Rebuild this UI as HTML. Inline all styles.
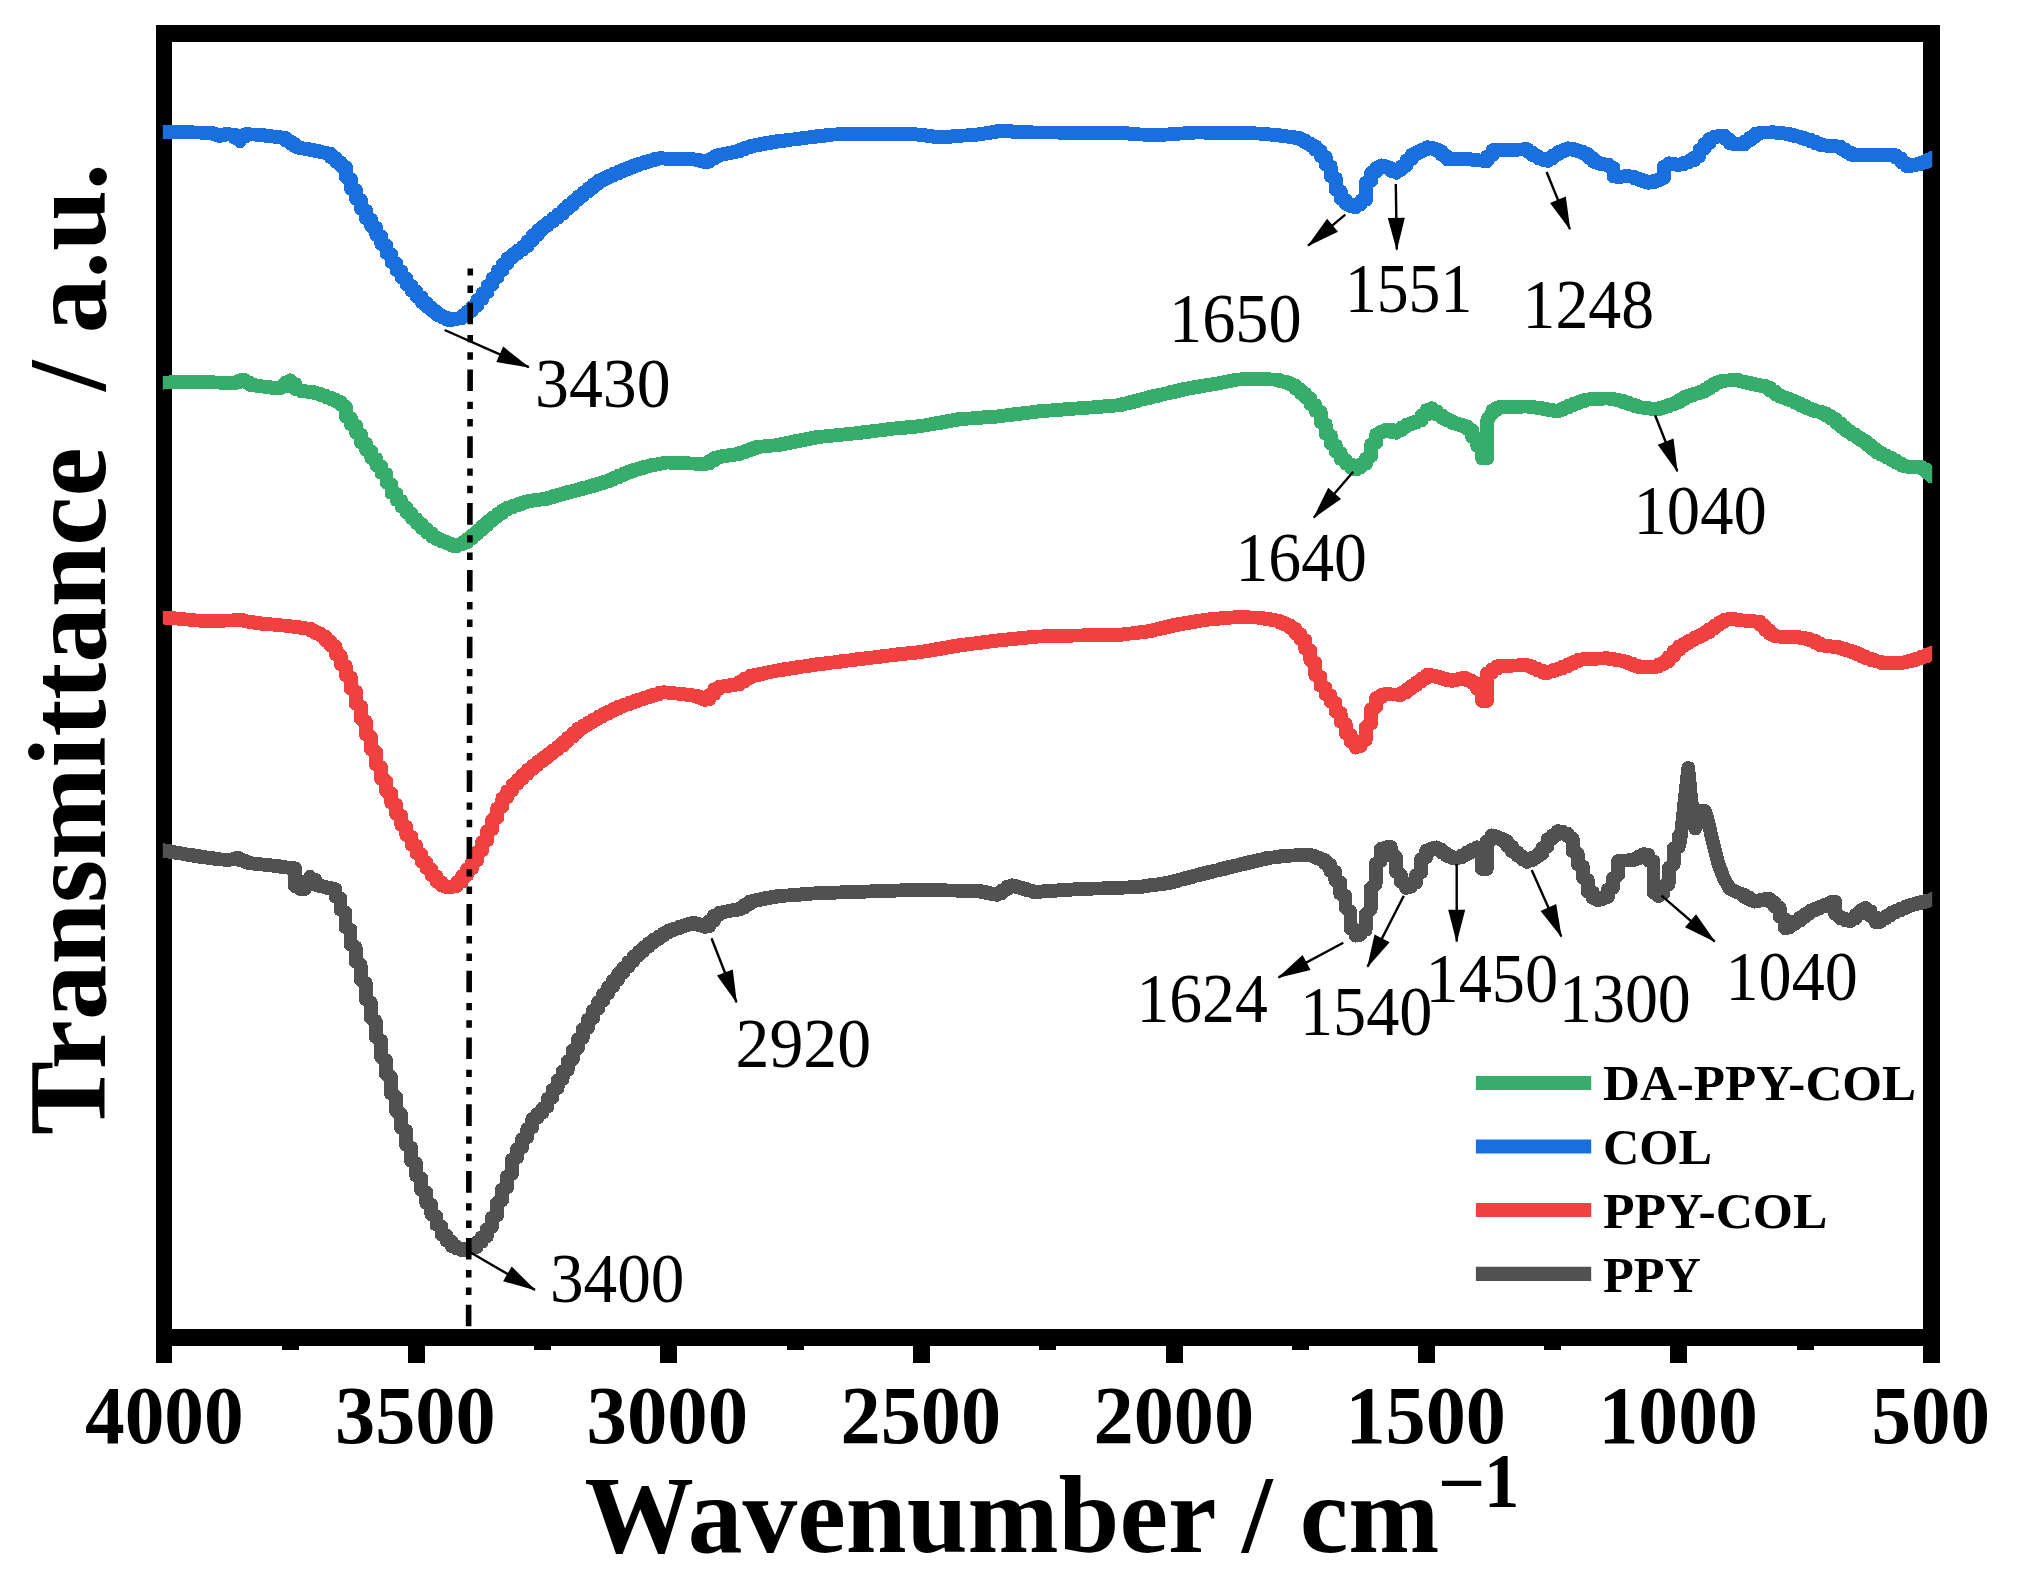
<!DOCTYPE html>
<html lang="en"><head><meta charset="utf-8"><title>FTIR spectra</title>
<style>
html,body{margin:0;padding:0;background:#fff;}
body{width:2017px;height:1594px;overflow:hidden;}
svg{display:block;}
text{font-family:"Liberation Serif","Times New Roman",serif;fill:#000;}
.b{font-weight:bold;}
.tick{font-weight:bold;font-size:83px;}
.ann{font-size:69px;}
.leg{font-weight:bold;font-size:50.5px;}
.sup{font-weight:bold;font-size:76px;}
.ttl{font-weight:bold;font-size:110px;}
</style></head><body>
<svg width="2017" height="1594" viewBox="0 0 2017 1594">
<rect x="0" y="0" width="2017" height="1594" fill="#fff"/>
<g fill="#000" shape-rendering="crispEdges">
<rect x="156" y="25" width="16" height="1321"/>
<rect x="1923" y="25" width="17" height="1321"/>
<rect x="156" y="25" width="1784" height="17"/>
<rect x="156" y="1329" width="1784" height="17"/>
<rect x="156" y="1340" width="16" height="23"/>
<rect x="1923" y="1340" width="17" height="23"/>
<rect x="408" y="1340" width="17" height="23"/>
<rect x="660" y="1340" width="17" height="23"/>
<rect x="913" y="1340" width="17" height="23"/>
<rect x="1166" y="1340" width="17" height="23"/>
<rect x="1418" y="1340" width="17" height="23"/>
<rect x="1670" y="1340" width="17" height="23"/>
<rect x="282" y="1340" width="17" height="10"/>
<rect x="534" y="1340" width="17" height="10"/>
<rect x="787" y="1340" width="17" height="10"/>
<rect x="1039" y="1340" width="17" height="10"/>
<rect x="1292" y="1340" width="17" height="10"/>
<rect x="1544" y="1340" width="17" height="10"/>
<rect x="1797" y="1340" width="17" height="10"/>
</g>
<defs><clipPath id="cp"><rect x="162.8" y="30" width="1769.4" height="1310"/></clipPath></defs>
<g clip-path="url(#cp)" fill="none" stroke-linejoin="round" stroke-linecap="round" shape-rendering="crispEdges">
<polyline points="153.6,850.2 153.6,850.2 153.6,850.2 153.6,850.2 153.6,850.2 153.6,850.2 158.6,850.2 158.6,850.2 158.6,850.2 158.6,850.2 158.6,850.2 158.6,850.2 163.7,850.2 163.7,850.3 163.7,850.4 163.7,850.6 163.7,850.7 163.7,850.9 168.8,851.0 168.8,851.2 168.8,851.3 168.8,851.4 168.8,851.6 168.8,851.7 173.8,851.9 173.8,852.0 173.8,852.2 173.8,852.3 173.8,852.5 173.8,852.6 178.8,852.8 178.8,852.9 178.8,853.0 178.8,853.2 178.8,853.3 178.8,853.5 183.9,853.6 183.9,853.8 183.9,853.9 183.9,854.1 183.9,854.2 183.9,854.4 188.9,854.5 188.9,854.7 188.9,854.8 188.9,854.9 188.9,855.1 188.9,855.2 194.0,855.3 194.0,855.4 194.0,855.6 194.0,855.7 194.0,855.8 194.0,855.9 199.0,856.1 199.0,856.2 199.0,856.3 199.0,856.4 199.0,856.6 199.0,856.7 204.1,856.8 204.1,856.9 204.1,857.1 204.1,857.2 204.1,857.3 204.1,857.4 209.1,857.6 209.1,857.7 209.1,857.8 209.1,857.9 209.1,858.1 209.1,858.2 214.2,858.3 214.2,858.4 214.2,858.6 214.2,858.7 214.2,858.8 214.2,858.9 219.2,859.1 219.2,859.2 219.2,859.3 219.2,859.4 219.2,859.5 219.2,859.5 224.3,859.6 224.3,859.6 224.3,859.7 224.3,859.7 224.3,859.8 224.3,859.8 229.3,859.9 229.3,859.9 229.3,860.0 229.3,859.8 229.3,859.7 229.3,859.5 234.4,859.3 234.4,859.1 234.4,858.9 234.4,858.7 234.4,858.6 234.4,858.4 239.4,858.2 239.4,858.6 239.4,858.9 239.4,859.3 239.4,859.6 239.4,860.0 244.5,860.3 244.5,860.6 244.5,861.0 244.5,861.3 244.5,861.7 244.5,862.0 249.5,862.4 249.5,862.7 249.5,863.1 249.5,863.2 249.5,863.3 249.5,863.4 254.6,863.4 254.6,863.5 254.6,863.6 254.6,863.7 254.6,863.8 254.6,863.9 259.6,864.0 259.6,864.0 259.6,864.1 259.6,864.2 259.6,864.3 259.6,864.4 264.7,864.5 264.7,864.6 264.7,864.6 264.7,864.7 264.7,864.8 264.7,864.9 269.8,865.0 269.8,865.1 269.8,865.2 269.8,865.3 269.8,865.3 269.8,865.4 274.8,865.5 274.8,865.7 274.8,865.8 274.8,865.9 274.8,866.0 274.8,866.1 279.8,866.2 279.8,866.3 279.8,866.4 279.8,866.5 279.8,866.6 279.8,866.7 284.9,866.9 284.9,867.0 284.9,867.1 284.9,867.2 284.9,867.3 284.9,867.4 289.9,867.5 289.9,867.6 289.9,867.7 289.9,867.8 289.9,868.0 289.9,868.1 295.0,868.2 295.0,868.3 295.0,876.6 295.0,885.5 295.0,885.9 295.0,886.3 300.0,886.7 300.0,887.2 300.0,887.6 300.0,888.0 300.0,888.4 300.0,888.9 305.1,888.9 305.1,887.4 305.1,886.0 305.1,884.5 305.1,883.1 305.1,881.6 310.1,880.2 310.1,878.8 310.1,877.3 310.1,876.9 310.1,877.9 310.1,878.9 315.2,879.9 315.2,880.9 315.2,881.9 315.2,882.9 315.2,883.9 315.2,884.9 320.2,885.5 320.2,885.7 320.2,885.9 320.2,886.1 320.2,886.3 320.2,886.5 325.3,886.7 325.3,886.9 325.3,887.1 325.3,887.3 325.3,887.5 325.3,887.7 330.4,887.9 330.4,888.1 330.4,888.3 330.4,888.4 330.4,888.6 330.4,888.8 335.4,889.0 335.4,889.5 335.4,891.3 335.4,893.0 335.4,894.8 335.4,896.6 340.4,898.3 340.4,900.1 340.4,901.9 340.4,903.9 340.4,906.8 340.4,909.6 345.5,912.5 345.5,915.4 345.5,918.3 345.5,921.2 345.5,924.1 345.5,927.0 350.5,929.9 350.5,932.8 350.5,935.7 350.5,938.6 350.5,941.4 350.5,944.3 355.6,947.2 355.6,950.1 355.6,953.0 355.6,955.8 355.6,958.7 355.6,961.6 360.6,964.5 360.6,967.4 360.6,970.3 360.6,973.2 360.6,976.3 360.6,979.7 365.7,983.0 365.7,986.3 365.7,989.6 365.7,993.0 365.7,996.1 365.7,999.2 370.8,1002.4 370.8,1005.5 370.8,1008.7 370.8,1011.8 370.8,1014.9 370.8,1018.0 375.8,1021.2 375.8,1024.3 375.8,1027.4 375.8,1030.5 375.8,1033.8 375.8,1037.1 380.9,1040.4 380.9,1043.7 380.9,1047.0 380.9,1050.3 380.9,1053.6 380.9,1056.9 385.9,1060.1 385.9,1062.9 385.9,1065.7 385.9,1068.5 385.9,1071.3 385.9,1074.0 390.9,1076.8 390.9,1079.7 390.9,1083.1 390.9,1086.5 390.9,1089.9 390.9,1093.3 396.0,1096.7 396.0,1100.0 396.0,1102.8 396.0,1105.5 396.0,1108.3 396.0,1111.1 401.0,1113.9 401.0,1116.6 401.0,1119.4 401.0,1122.3 401.0,1125.1 401.0,1127.9 406.1,1130.7 406.1,1133.6 406.1,1136.4 406.1,1139.2 406.1,1142.0 406.1,1144.8 411.1,1147.5 411.1,1150.3 411.1,1153.1 411.1,1155.9 411.1,1158.6 411.1,1161.1 416.2,1163.5 416.2,1165.9 416.2,1168.3 416.2,1170.8 416.2,1173.2 416.2,1175.6 421.2,1178.1 421.2,1180.4 421.2,1182.8 421.2,1185.2 421.2,1187.6 421.2,1190.0 426.3,1192.3 426.3,1194.7 426.3,1197.1 426.3,1199.3 426.3,1201.2 426.3,1203.1 431.3,1205.0 431.3,1206.9 431.3,1208.8 431.3,1210.7 431.3,1212.6 431.3,1214.5 436.4,1216.4 436.4,1218.1 436.4,1219.8 436.4,1221.4 436.4,1223.1 436.4,1224.8 441.4,1226.5 441.4,1228.2 441.4,1229.9 441.4,1231.5 441.4,1233.2 441.4,1234.5 446.5,1235.6 446.5,1236.6 446.5,1237.6 446.5,1238.6 446.5,1239.6 446.5,1240.6 451.5,1241.6 451.5,1242.6 451.5,1243.7 451.5,1244.7 451.5,1245.7 451.5,1246.2 456.6,1246.6 456.6,1246.9 456.6,1247.3 456.6,1247.7 456.6,1248.0 456.6,1248.4 461.6,1248.8 461.6,1249.2 461.6,1249.5 461.6,1249.9 461.6,1250.3 461.6,1250.1 466.7,1249.8 466.7,1249.6 466.7,1249.4 466.7,1249.1 466.7,1248.9 466.7,1248.6 471.8,1248.4 471.8,1248.2 471.8,1247.9 471.8,1247.7 471.8,1247.4 471.8,1247.2 476.8,1247.0 476.8,1246.2 476.8,1245.3 476.8,1244.4 476.8,1243.5 476.8,1242.6 481.8,1241.6 481.8,1240.7 481.8,1239.8 481.8,1238.9 481.8,1238.0 481.8,1237.1 486.9,1236.2 486.9,1235.3 486.9,1234.3 486.9,1232.8 486.9,1230.9 486.9,1229.0 491.9,1227.1 491.9,1225.2 491.9,1223.3 491.9,1221.4 491.9,1219.6 491.9,1217.7 497.0,1215.6 497.0,1213.1 497.0,1210.5 497.0,1207.9 497.0,1205.4 497.0,1202.8 502.0,1200.3 502.0,1197.8 502.0,1195.8 502.0,1193.7 502.0,1191.6 502.0,1189.5 507.1,1187.4 507.1,1185.3 507.1,1183.3 507.1,1181.2 507.1,1179.1 507.1,1176.5 512.1,1173.6 512.1,1170.8 512.1,1167.9 512.1,1165.1 512.1,1162.3 512.1,1159.4 517.2,1157.4 517.2,1155.7 517.2,1154.0 517.2,1152.4 517.2,1150.7 517.2,1149.0 522.2,1147.3 522.2,1145.6 522.2,1143.9 522.2,1142.3 522.2,1140.6 522.2,1138.9 527.3,1137.2 527.3,1135.5 527.3,1133.8 527.3,1132.2 527.3,1130.5 527.3,1128.8 532.3,1127.1 532.3,1125.4 532.3,1123.7 532.3,1122.1 532.3,1120.4 532.3,1118.8 537.4,1118.0 537.4,1117.2 537.4,1116.3 537.4,1115.5 537.4,1114.7 537.4,1113.8 542.5,1113.0 542.5,1112.2 542.5,1111.4 542.5,1110.5 542.5,1109.7 542.5,1108.4 547.5,1106.8 547.5,1105.3 547.5,1103.8 547.5,1102.2 547.5,1100.7 547.5,1099.1 552.5,1097.6 552.5,1096.0 552.5,1094.5 552.5,1093.0 552.5,1091.4 552.5,1089.9 557.6,1088.3 557.6,1086.8 557.6,1085.2 557.6,1083.7 557.6,1082.1 557.6,1080.6 562.6,1079.1 562.6,1077.5 562.6,1076.0 562.6,1074.4 562.6,1072.9 562.6,1071.3 567.7,1069.8 567.7,1068.2 567.7,1066.7 567.7,1065.0 567.7,1063.1 567.7,1061.3 572.8,1059.4 572.8,1057.6 572.8,1055.7 572.8,1053.9 572.8,1052.0 572.8,1050.2 577.8,1048.3 577.8,1046.5 577.8,1044.6 577.8,1042.9 577.8,1041.2 577.8,1039.5 582.8,1037.8 582.8,1036.1 582.8,1034.4 582.8,1032.8 582.8,1031.1 582.8,1029.4 587.9,1027.7 587.9,1026.0 587.9,1024.3 587.9,1022.8 587.9,1021.3 587.9,1019.8 593.0,1018.2 593.0,1016.7 593.0,1015.2 593.0,1013.7 593.0,1012.1 593.0,1010.6 598.0,1009.1 598.0,1007.6 598.0,1006.1 598.0,1004.8 598.0,1003.6 598.0,1002.3 603.0,1001.0 603.0,999.8 603.0,998.5 603.0,997.3 603.0,996.0 603.0,994.8 608.1,993.5 608.1,992.2 608.1,991.0 608.1,989.7 608.1,988.5 608.1,987.3 613.1,986.2 613.1,985.1 613.1,984.0 613.1,982.8 613.1,981.7 613.1,980.6 618.2,979.5 618.2,978.3 618.2,977.2 618.2,976.1 618.2,975.0 618.2,973.8 623.2,972.7 623.2,971.7 623.2,970.8 623.2,969.8 623.2,968.8 623.2,967.9 628.3,966.9 628.3,966.0 628.3,965.0 628.3,964.1 628.3,963.1 628.3,962.2 633.3,961.2 633.3,960.2 633.3,959.3 633.3,958.3 633.3,957.4 633.3,956.5 638.4,955.7 638.4,955.0 638.4,954.3 638.4,953.5 638.4,952.8 638.4,952.0 643.5,951.3 643.5,950.6 643.5,949.8 643.5,949.1 643.5,948.3 643.5,947.6 648.5,946.9 648.5,946.1 648.5,945.4 648.5,944.6 648.5,943.9 648.5,943.1 653.5,942.5 653.5,941.9 653.5,941.4 653.5,940.8 653.5,940.3 653.5,939.7 658.6,939.1 658.6,938.6 658.6,938.0 658.6,937.5 658.6,936.9 658.6,936.3 663.6,935.8 663.6,935.2 663.6,934.7 663.6,934.1 663.6,933.6 663.6,933.0 668.7,932.4 668.7,931.9 668.7,931.3 668.7,930.8 668.7,930.5 668.7,930.3 673.8,930.0 673.8,929.7 673.8,929.4 673.8,929.1 673.8,928.8 673.8,928.6 678.8,928.3 678.8,928.0 678.8,927.7 678.8,927.4 678.8,927.1 678.8,926.9 683.8,926.6 683.8,926.3 683.8,926.0 683.8,925.7 683.8,925.5 683.8,925.2 688.9,924.9 688.9,924.6 688.9,924.3 688.9,924.0 688.9,923.8 688.9,923.5 694.0,923.2 694.0,922.9 694.0,923.1 694.0,923.4 694.0,923.6 694.0,923.9 699.0,924.1 699.0,924.3 699.0,924.6 699.0,924.8 699.0,925.1 699.0,925.3 704.0,925.6 704.0,925.8 704.0,926.0 704.0,926.3 704.0,926.5 704.0,926.8 709.1,926.4 709.1,925.5 709.1,924.5 709.1,923.5 709.1,922.5 709.1,921.5 714.1,920.5 714.1,919.6 714.1,918.6 714.1,917.6 714.1,916.6 714.1,915.6 719.2,914.6 719.2,913.7 719.2,913.0 719.2,912.8 719.2,912.6 719.2,912.5 724.2,912.3 724.2,912.2 724.2,912.0 724.2,911.9 724.2,911.7 724.2,911.6 729.3,911.4 729.3,911.3 729.3,911.1 729.3,911.0 729.3,910.8 729.3,910.7 734.3,910.5 734.3,910.4 734.3,910.2 734.3,910.1 734.3,909.9 734.3,909.8 739.4,909.6 739.4,909.5 739.4,909.3 739.4,909.2 739.4,908.9 739.4,908.3 744.5,907.7 744.5,907.2 744.5,906.6 744.5,906.0 744.5,905.5 744.5,904.9 749.5,904.3 749.5,903.8 749.5,903.2 749.5,902.6 749.5,902.1 749.5,901.5 754.5,901.1 754.5,900.9 754.5,900.7 754.5,900.6 754.5,900.4 754.5,900.3 759.6,900.1 759.6,899.9 759.6,899.8 759.6,899.6 759.6,899.5 759.6,899.3 764.6,899.1 764.6,899.0 764.6,898.8 764.6,898.7 764.6,898.5 764.6,898.3 769.7,898.2 769.7,898.0 769.7,897.9 769.7,897.7 769.7,897.5 769.7,897.4 774.8,897.2 774.8,897.1 774.8,896.9 774.8,896.7 774.8,896.6 774.8,896.4 779.8,896.3 779.8,896.2 779.8,896.1 779.8,896.0 779.8,896.0 779.8,895.9 784.8,895.8 784.8,895.8 784.8,895.7 784.8,895.6 784.8,895.6 784.8,895.5 789.9,895.5 789.9,895.4 789.9,895.3 789.9,895.3 789.9,895.2 789.9,895.1 795.0,895.1 795.0,895.0 795.0,894.9 795.0,894.9 795.0,894.8 795.0,894.8 800.0,894.7 800.0,894.6 800.0,894.6 800.0,894.5 800.0,894.4 800.0,894.4 805.0,894.3 805.0,894.2 805.0,894.2 805.0,894.1 805.0,894.1 805.0,894.0 810.1,893.9 810.1,893.9 810.1,893.8 810.1,893.7 810.1,893.7 810.1,893.6 815.1,893.5 815.1,893.5 815.1,893.4 815.1,893.4 815.1,893.3 815.1,893.2 820.2,893.2 820.2,893.2 820.2,893.1 820.2,893.1 820.2,893.1 820.2,893.0 825.2,893.0 825.2,893.0 825.2,893.0 825.2,892.9 825.2,892.9 825.2,892.9 830.3,892.8 830.3,892.8 830.3,892.8 830.3,892.8 830.3,892.7 830.3,892.7 835.3,892.7 835.3,892.6 835.3,892.6 835.3,892.6 835.3,892.6 835.3,892.5 840.4,892.5 840.4,892.5 840.4,892.4 840.4,892.4 840.4,892.4 840.4,892.4 845.5,892.3 845.5,892.3 845.5,892.3 845.5,892.2 845.5,892.2 845.5,892.2 850.5,892.2 850.5,892.1 850.5,892.1 850.5,892.1 850.5,892.1 850.5,892.0 855.5,892.0 855.5,892.0 855.5,891.9 855.5,891.9 855.5,891.9 855.5,891.9 860.6,891.8 860.6,891.8 860.6,891.8 860.6,891.7 860.6,891.7 860.6,891.7 865.6,891.7 865.6,891.6 865.6,891.6 865.6,891.6 865.6,891.5 865.6,891.5 870.7,891.5 870.7,891.5 870.7,891.4 870.7,891.4 870.7,891.4 870.7,891.3 875.8,891.3 875.8,891.3 875.8,891.3 875.8,891.2 875.8,891.2 875.8,891.2 880.8,891.1 880.8,891.1 880.8,891.1 880.8,891.1 880.8,891.0 880.8,891.0 885.8,891.0 885.8,890.9 885.8,890.9 885.8,890.9 885.8,890.8 885.8,890.8 890.9,890.8 890.9,890.8 890.9,890.7 890.9,890.7 890.9,890.7 890.9,890.6 896.0,890.6 896.0,890.6 896.0,890.6 896.0,890.5 896.0,890.5 896.0,890.5 901.0,890.4 901.0,890.4 901.0,890.4 901.0,890.3 901.0,890.3 901.0,890.3 906.0,890.3 906.0,890.2 906.0,890.2 906.0,890.2 906.0,890.1 906.0,890.1 911.1,890.1 911.1,890.1 911.1,890.0 911.1,890.0 911.1,890.0 911.1,889.9 916.1,889.9 916.1,889.9 916.1,889.8 916.1,889.8 916.1,889.8 916.1,889.8 921.2,889.7 921.2,889.7 921.2,889.7 921.2,889.7 921.2,889.8 921.2,889.8 926.2,889.8 926.2,889.8 926.2,889.8 926.2,889.9 926.2,889.9 926.2,889.9 931.3,889.9 931.3,889.9 931.3,890.0 931.3,890.0 931.3,890.0 931.3,890.0 936.3,890.0 936.3,890.1 936.3,890.1 936.3,890.1 936.3,890.1 936.3,890.1 941.4,890.2 941.4,890.2 941.4,890.2 941.4,890.2 941.4,890.2 941.4,890.3 946.5,890.3 946.5,890.3 946.5,890.3 946.5,890.3 946.5,890.4 946.5,890.4 951.5,890.4 951.5,890.4 951.5,890.4 951.5,890.5 951.5,890.5 951.5,890.5 956.5,890.5 956.5,890.5 956.5,890.6 956.5,890.6 956.5,890.6 956.5,890.6 961.6,890.6 961.6,890.6 961.6,890.7 961.6,890.7 961.6,890.7 961.6,890.7 966.6,890.7 966.6,890.8 966.6,890.8 966.6,890.8 966.6,890.8 966.6,890.8 971.7,890.9 971.7,890.9 971.7,890.9 971.7,890.9 971.7,890.9 971.7,891.0 976.8,891.0 976.8,891.0 976.8,891.0 976.8,891.0 976.8,891.1 976.8,891.1 981.8,891.1 981.8,891.3 981.8,891.5 981.8,891.7 981.8,891.9 981.8,892.1 986.8,892.2 986.8,892.4 986.8,892.6 986.8,892.8 986.8,893.0 986.8,893.2 991.9,893.4 991.9,893.5 991.9,893.7 991.9,893.9 991.9,894.1 991.9,894.3 997.0,894.5 997.0,894.6 997.0,894.8 997.0,894.9 997.0,894.4 997.0,893.8 1002.0,893.2 1002.0,892.6 1002.0,892.0 1002.0,891.4 1002.0,890.8 1002.0,890.2 1007.0,889.6 1007.0,889.0 1007.0,888.4 1007.0,887.8 1007.0,887.2 1007.0,886.6 1012.1,886.0 1012.1,885.4 1012.1,885.2 1012.1,885.5 1012.1,885.7 1012.1,886.0 1017.1,886.2 1017.1,886.5 1017.1,886.7 1017.1,886.9 1017.1,887.2 1017.1,887.4 1022.2,887.7 1022.2,887.9 1022.2,888.2 1022.2,888.4 1022.2,888.7 1022.2,888.9 1027.2,889.1 1027.2,889.4 1027.2,889.6 1027.2,889.9 1027.2,890.1 1027.2,890.4 1032.3,890.6 1032.3,890.9 1032.3,891.1 1032.3,891.3 1032.3,891.6 1032.3,891.8 1037.3,892.0 1037.3,891.9 1037.3,891.9 1037.3,891.8 1037.3,891.8 1037.3,891.7 1042.4,891.6 1042.4,891.6 1042.4,891.5 1042.4,891.5 1042.4,891.4 1042.4,891.4 1047.5,891.3 1047.5,891.3 1047.5,891.2 1047.5,891.1 1047.5,891.1 1047.5,891.0 1052.5,891.0 1052.5,890.9 1052.5,890.9 1052.5,890.8 1052.5,890.8 1052.5,890.7 1057.5,890.6 1057.5,890.6 1057.5,890.5 1057.5,890.5 1057.5,890.4 1057.5,890.4 1062.6,890.3 1062.6,890.3 1062.6,890.2 1062.6,890.1 1062.6,890.1 1062.6,890.0 1067.6,890.0 1067.6,889.9 1067.6,889.9 1067.6,889.8 1067.6,889.7 1067.6,889.7 1072.7,889.6 1072.7,889.6 1072.7,889.5 1072.7,889.5 1072.7,889.4 1072.7,889.4 1077.8,889.3 1077.8,889.2 1077.8,889.2 1077.8,889.1 1077.8,889.1 1077.8,889.1 1082.8,889.0 1082.8,889.0 1082.8,889.0 1082.8,888.9 1082.8,888.9 1082.8,888.9 1087.8,888.9 1087.8,888.8 1087.8,888.8 1087.8,888.8 1087.8,888.7 1087.8,888.7 1092.9,888.7 1092.9,888.7 1092.9,888.6 1092.9,888.6 1092.9,888.6 1092.9,888.6 1098.0,888.5 1098.0,888.5 1098.0,888.5 1098.0,888.4 1098.0,888.4 1098.0,888.4 1103.0,888.4 1103.0,888.3 1103.0,888.3 1103.0,888.3 1103.0,888.2 1103.0,888.2 1108.0,888.2 1108.0,888.2 1108.0,888.1 1108.0,888.1 1108.0,888.1 1108.0,888.0 1113.1,888.0 1113.1,888.0 1113.1,888.0 1113.1,887.9 1113.1,887.9 1113.1,887.9 1118.1,887.8 1118.1,887.8 1118.1,887.8 1118.1,887.8 1118.1,887.7 1118.1,887.7 1123.2,887.7 1123.2,887.6 1123.2,887.6 1123.2,887.6 1123.2,887.6 1123.2,887.5 1128.2,887.5 1128.2,887.5 1128.2,887.4 1128.2,887.4 1128.2,887.4 1128.2,887.4 1133.3,887.3 1133.3,887.3 1133.3,887.3 1133.3,887.2 1133.3,887.2 1133.3,887.2 1138.3,887.2 1138.3,887.1 1138.3,887.1 1138.3,887.0 1138.3,886.9 1138.3,886.8 1143.4,886.7 1143.4,886.6 1143.4,886.4 1143.4,886.3 1143.4,886.2 1143.4,886.1 1148.5,886.0 1148.5,885.9 1148.5,885.8 1148.5,885.7 1148.5,885.5 1148.5,885.4 1153.5,885.3 1153.5,885.2 1153.5,885.1 1153.5,885.0 1153.5,884.9 1153.5,884.8 1158.5,884.6 1158.5,884.5 1158.5,884.4 1158.5,884.3 1158.5,884.2 1158.5,884.1 1163.6,884.0 1163.6,883.8 1163.6,883.7 1163.6,883.6 1163.6,883.5 1163.6,883.4 1168.6,883.3 1168.6,883.2 1168.6,883.0 1168.6,882.8 1168.6,882.6 1168.6,882.3 1173.7,882.1 1173.7,881.9 1173.7,881.7 1173.7,881.4 1173.7,881.2 1173.7,881.0 1178.8,880.8 1178.8,880.5 1178.8,880.3 1178.8,880.1 1178.8,879.9 1178.8,879.7 1183.8,879.4 1183.8,879.2 1183.8,879.0 1183.8,878.8 1183.8,878.5 1183.8,878.3 1188.8,878.1 1188.8,877.9 1188.8,877.6 1188.8,877.4 1188.8,877.2 1188.8,877.0 1193.9,876.7 1193.9,876.5 1193.9,876.3 1193.9,876.1 1193.9,875.8 1193.9,875.6 1199.0,875.4 1199.0,875.2 1199.0,875.0 1199.0,874.8 1199.0,874.5 1199.0,874.3 1204.0,874.1 1204.0,873.9 1204.0,873.7 1204.0,873.5 1204.0,873.3 1204.0,873.1 1209.0,872.9 1209.0,872.7 1209.0,872.4 1209.0,872.2 1209.0,872.0 1209.0,871.8 1214.1,871.6 1214.1,871.4 1214.1,871.2 1214.1,871.0 1214.1,870.8 1214.1,870.6 1219.2,870.4 1219.2,870.1 1219.2,869.9 1219.2,869.7 1219.2,869.5 1219.2,869.3 1224.2,869.1 1224.2,868.9 1224.2,868.7 1224.2,868.5 1224.2,868.3 1224.2,868.0 1229.2,867.8 1229.2,867.6 1229.2,867.4 1229.2,867.2 1229.2,867.0 1229.2,866.8 1234.3,866.6 1234.3,866.4 1234.3,866.2 1234.3,865.9 1234.3,865.7 1234.3,865.5 1239.3,865.3 1239.3,865.1 1239.3,864.9 1239.3,864.7 1239.3,864.5 1239.3,864.3 1244.4,864.1 1244.4,863.9 1244.4,863.7 1244.4,863.5 1244.4,863.3 1244.4,863.1 1249.5,862.9 1249.5,862.7 1249.5,862.5 1249.5,862.3 1249.5,862.1 1249.5,861.9 1254.5,861.7 1254.5,861.5 1254.5,861.3 1254.5,861.1 1254.5,860.9 1254.5,860.8 1259.5,860.6 1259.5,860.4 1259.5,860.2 1259.5,860.0 1259.5,859.8 1259.5,859.6 1264.6,859.4 1264.6,859.2 1264.6,859.0 1264.6,858.8 1264.6,858.6 1264.6,858.4 1269.7,858.2 1269.7,858.1 1269.7,858.0 1269.7,857.9 1269.7,857.8 1269.7,857.6 1274.7,857.5 1274.7,857.4 1274.7,857.3 1274.7,857.2 1274.7,857.1 1274.7,857.0 1279.8,856.8 1279.8,856.7 1279.8,856.6 1279.8,856.5 1279.8,856.4 1279.8,856.3 1284.8,856.2 1284.8,856.0 1284.8,856.0 1284.8,855.9 1284.8,855.9 1284.8,855.8 1289.8,855.8 1289.8,855.7 1289.8,855.7 1289.8,855.6 1289.8,855.6 1289.8,855.6 1294.9,855.5 1294.9,855.5 1294.9,855.4 1294.9,855.4 1294.9,855.3 1294.9,855.3 1300.0,855.2 1300.0,855.2 1300.0,855.1 1300.0,855.1 1300.0,855.1 1300.0,855.0 1305.0,855.0 1305.0,854.9 1305.0,854.9 1305.0,854.8 1305.0,854.8 1305.0,854.7 1310.0,854.7 1310.0,854.6 1310.0,854.6 1310.0,855.0 1310.0,855.3 1310.0,855.6 1315.1,856.0 1315.1,856.3 1315.1,856.7 1315.1,857.0 1315.1,857.3 1315.1,857.7 1320.2,858.0 1320.2,858.4 1320.2,858.7 1320.2,859.0 1320.2,859.4 1320.2,859.7 1325.2,860.1 1325.2,860.4 1325.2,860.7 1325.2,861.3 1325.2,862.5 1325.2,863.6 1330.2,864.8 1330.2,866.0 1330.2,867.2 1330.2,868.3 1330.2,869.5 1330.2,870.7 1335.3,871.8 1335.3,873.0 1335.3,874.2 1335.3,875.8 1335.3,878.0 1335.3,880.3 1340.3,882.5 1340.3,884.8 1340.3,887.0 1340.3,889.3 1340.3,891.5 1340.3,893.8 1345.4,896.0 1345.4,898.2 1345.4,900.4 1345.4,902.7 1345.4,904.9 1345.4,907.6 1350.5,911.9 1350.5,916.2 1350.5,920.5 1350.5,924.7 1350.5,927.2 1350.5,928.6 1355.5,929.9 1355.5,931.3 1355.5,932.6 1355.5,934.0 1355.5,935.3 1355.5,935.6 1360.5,934.8 1360.5,934.0 1360.5,933.2 1360.5,932.4 1360.5,931.6 1360.5,930.8 1365.6,929.9 1365.6,929.1 1365.6,928.0 1365.6,923.4 1365.6,918.8 1365.6,914.2 1370.7,909.6 1370.7,905.1 1370.7,900.9 1370.7,896.6 1370.7,892.3 1370.7,888.0 1375.7,884.0 1375.7,880.0 1375.7,876.0 1375.7,871.9 1375.7,867.9 1375.7,863.9 1380.8,860.8 1380.8,857.8 1380.8,854.9 1380.8,852.0 1380.8,849.1 1380.8,848.9 1385.8,848.6 1385.8,848.4 1385.8,848.1 1385.8,847.9 1385.8,847.6 1385.8,847.4 1390.8,847.1 1390.8,848.5 1390.8,850.1 1390.8,851.8 1390.8,853.5 1390.8,855.1 1395.9,856.8 1395.9,858.5 1395.9,861.4 1395.9,864.8 1395.9,868.2 1395.9,871.7 1401.0,875.0 1401.0,876.4 1401.0,877.8 1401.0,879.2 1401.0,880.6 1401.0,882.0 1406.0,883.4 1406.0,884.8 1406.0,886.3 1406.0,887.7 1406.0,887.9 1406.0,887.3 1411.0,886.7 1411.0,886.0 1411.0,885.4 1411.0,884.8 1411.0,884.1 1411.0,883.5 1416.1,882.8 1416.1,882.2 1416.1,881.6 1416.1,880.9 1416.1,878.4 1416.1,875.3 1421.2,872.3 1421.2,869.2 1421.2,866.2 1421.2,863.1 1421.2,861.1 1421.2,859.1 1426.2,857.1 1426.2,855.1 1426.2,853.1 1426.2,851.1 1426.2,850.8 1426.2,850.4 1431.2,850.1 1431.2,849.7 1431.2,849.4 1431.2,849.1 1431.2,848.7 1431.2,848.4 1436.3,848.0 1436.3,847.7 1436.3,847.4 1436.3,847.3 1436.3,847.9 1436.3,848.6 1441.3,849.3 1441.3,850.0 1441.3,850.6 1441.3,851.3 1441.3,852.0 1441.3,852.6 1446.4,853.3 1446.4,854.0 1446.4,854.7 1446.4,855.2 1446.4,855.5 1446.4,855.9 1451.5,856.2 1451.5,856.5 1451.5,856.9 1451.5,857.2 1451.5,857.6 1451.5,857.9 1456.5,858.2 1456.5,858.6 1456.5,858.9 1456.5,858.7 1456.5,858.3 1456.5,857.8 1461.5,857.4 1461.5,857.0 1461.5,856.6 1461.5,856.1 1461.5,855.7 1461.5,855.3 1466.6,854.9 1466.6,854.4 1466.6,854.0 1466.6,853.6 1466.6,853.2 1466.6,852.7 1471.7,852.2 1471.7,851.7 1471.7,851.2 1471.7,850.7 1471.7,850.2 1471.7,849.7 1476.7,849.2 1476.7,848.7 1476.7,848.2 1476.7,847.7 1476.7,847.2 1476.7,849.5 1481.8,852.4 1481.8,855.3 1481.8,859.0 1481.8,864.0 1481.8,869.0 1481.8,869.0 1486.8,869.0 1486.8,869.0 1486.8,859.6 1486.8,847.9 1486.8,842.9 1486.8,841.3 1491.8,839.6 1491.8,838.0 1491.8,836.3 1491.8,835.3 1491.8,835.7 1491.8,836.0 1496.9,836.4 1496.9,836.7 1496.9,837.0 1496.9,837.4 1496.9,837.7 1496.9,838.1 1502.0,838.4 1502.0,838.8 1502.0,839.1 1502.0,839.5 1502.0,839.8 1502.0,840.3 1507.0,841.2 1507.0,842.1 1507.0,843.0 1507.0,843.9 1507.0,844.8 1507.0,845.7 1512.0,846.7 1512.0,847.6 1512.0,848.5 1512.0,849.4 1512.0,850.3 1512.0,851.2 1517.1,852.1 1517.1,853.0 1517.1,853.7 1517.1,854.3 1517.1,854.9 1517.1,855.6 1522.2,856.2 1522.2,856.8 1522.2,857.5 1522.2,858.1 1522.2,858.8 1522.2,859.4 1527.2,860.0 1527.2,860.7 1527.2,861.3 1527.2,861.9 1527.2,861.5 1527.2,861.0 1532.2,860.4 1532.2,859.9 1532.2,859.3 1532.2,858.8 1532.2,858.2 1532.2,857.7 1537.3,857.1 1537.3,856.6 1537.3,856.1 1537.3,855.5 1537.3,855.0 1537.3,854.4 1542.3,853.9 1542.3,853.3 1542.3,852.4 1542.3,851.0 1542.3,849.5 1542.3,848.0 1547.4,846.5 1547.4,845.1 1547.4,843.6 1547.4,842.1 1547.4,840.7 1547.4,839.2 1552.5,838.5 1552.5,837.9 1552.5,837.2 1552.5,836.5 1552.5,835.8 1552.5,835.2 1557.5,834.5 1557.5,833.8 1557.5,833.1 1557.5,832.5 1557.5,831.8 1557.5,831.2 1562.5,831.6 1562.5,831.9 1562.5,832.3 1562.5,832.6 1562.5,832.9 1562.5,833.3 1567.6,833.6 1567.6,834.0 1567.6,834.3 1567.6,834.6 1567.6,835.0 1567.6,836.1 1572.7,838.7 1572.7,841.2 1572.7,843.7 1572.7,846.3 1572.7,848.8 1572.7,851.4 1577.7,853.7 1577.7,855.8 1577.7,857.9 1577.7,860.0 1577.7,862.1 1577.7,864.2 1582.8,866.3 1582.8,868.4 1582.8,870.5 1582.8,872.6 1582.8,875.0 1582.8,877.6 1587.8,880.1 1587.8,882.7 1587.8,885.2 1587.8,887.7 1587.8,890.3 1587.8,891.6 1592.8,892.6 1592.8,893.7 1592.8,894.7 1592.8,895.8 1592.8,896.9 1592.8,897.9 1597.9,899.0 1597.9,900.0 1597.9,900.5 1597.9,900.1 1597.9,899.8 1597.9,899.5 1603.0,899.1 1603.0,898.8 1603.0,898.5 1603.0,898.1 1603.0,897.8 1603.0,897.5 1608.0,897.1 1608.0,896.8 1608.0,895.4 1608.0,893.5 1608.0,891.6 1608.0,889.8 1613.0,887.9 1613.0,886.0 1613.0,884.1 1613.0,882.2 1613.0,880.3 1613.0,878.2 1618.1,875.1 1618.1,872.0 1618.1,868.9 1618.1,865.7 1618.1,862.6 1618.1,861.0 1623.2,860.9 1623.2,860.8 1623.2,860.8 1623.2,860.7 1623.2,860.7 1623.2,860.6 1628.2,860.5 1628.2,860.5 1628.2,860.4 1628.2,860.4 1628.2,860.3 1628.2,860.2 1633.2,860.2 1633.2,860.1 1633.2,860.1 1633.2,860.0 1633.2,859.6 1633.2,859.2 1638.3,858.7 1638.3,858.3 1638.3,857.9 1638.3,857.5 1638.3,857.0 1638.3,856.6 1643.3,856.2 1643.3,855.8 1643.3,855.3 1643.3,854.9 1643.3,854.5 1643.3,854.1 1648.4,854.9 1648.4,856.0 1648.4,857.1 1648.4,858.1 1648.4,859.2 1648.4,860.3 1653.5,861.4 1653.5,862.5 1653.5,876.2 1653.5,891.1 1653.5,891.9 1653.5,892.8 1658.5,893.6 1658.5,894.4 1658.5,895.3 1658.5,896.1 1658.5,896.2 1658.5,894.8 1663.5,893.3 1663.5,891.8 1663.5,890.3 1663.5,888.8 1663.5,887.4 1663.5,885.9 1668.6,884.4 1668.6,882.9 1668.6,879.3 1668.6,875.5 1668.6,871.8 1668.6,868.0 1673.7,864.3 1673.7,861.0 1673.7,857.6 1673.7,854.3 1673.7,850.9 1673.7,848.4 1678.7,847.0 1678.7,845.5 1678.7,844.1 1678.7,842.7 1678.7,841.3 1678.7,836.1 1680.3,840.7 1688.2,767.9 1691.4,801.2 1695.2,828.6 1698.0,823.0 1701.5,810.5 1705.0,811.0 1706.6,815.7 1713.0,842.4 1718.3,863.7 1723.6,877.6 1729.6,888.7 1740.0,893.5 1744.3,894.7 1744.3,895.2 1744.3,895.7 1744.3,896.1 1744.3,896.6 1744.3,897.1 1749.4,897.5 1749.4,898.0 1749.4,898.4 1749.4,898.9 1749.4,899.4 1749.4,899.8 1754.5,900.3 1754.5,900.8 1754.5,901.2 1754.5,901.6 1754.5,901.4 1754.5,901.2 1759.5,901.0 1759.5,900.9 1759.5,900.7 1759.5,900.5 1759.5,900.3 1759.5,900.2 1764.5,900.0 1764.5,899.8 1764.5,899.6 1764.5,899.5 1764.5,899.3 1764.5,899.1 1769.6,898.9 1769.6,898.8 1769.6,899.3 1769.6,900.1 1769.6,901.0 1769.6,901.8 1774.7,902.6 1774.7,903.5 1774.7,904.3 1774.7,905.2 1774.7,906.0 1774.7,906.9 1779.7,907.7 1779.7,908.5 1779.7,910.6 1779.7,912.7 1779.7,914.8 1779.7,916.9 1784.8,919.0 1784.8,921.1 1784.8,923.2 1784.8,925.3 1784.8,927.4 1784.8,928.1 1789.8,927.5 1789.8,927.0 1789.8,926.4 1789.8,925.9 1789.8,925.3 1789.8,924.7 1794.8,924.2 1794.8,923.6 1794.8,923.1 1794.8,922.5 1794.8,922.0 1794.8,921.4 1799.9,920.8 1799.9,920.2 1799.9,919.6 1799.9,919.0 1799.9,918.3 1799.9,917.7 1805.0,917.1 1805.0,916.4 1805.0,915.8 1805.0,915.2 1805.0,914.5 1805.0,913.9 1810.0,913.2 1810.0,912.6 1810.0,912.0 1810.0,911.4 1810.0,911.1 1810.0,910.7 1815.0,910.4 1815.0,910.0 1815.0,909.7 1815.0,909.3 1815.0,909.0 1815.0,908.6 1820.1,908.3 1820.1,907.9 1820.1,907.6 1820.1,907.2 1820.1,906.9 1820.1,906.5 1825.2,906.2 1825.2,905.8 1825.2,905.5 1825.2,905.1 1825.2,904.8 1825.2,904.4 1830.2,904.1 1830.2,903.7 1830.2,903.4 1830.2,903.0 1830.2,902.7 1830.2,902.3 1835.2,902.0 1835.2,901.6 1835.2,904.7 1835.2,907.8 1835.2,911.0 1835.2,914.1 1840.3,916.6 1840.3,916.9 1840.3,917.3 1840.3,917.6 1840.3,918.0 1840.3,918.4 1845.3,918.7 1845.3,919.1 1845.3,919.4 1845.3,919.8 1845.3,920.1 1845.3,920.5 1850.4,920.8 1850.4,921.2 1850.4,921.4 1850.4,920.7 1850.4,919.9 1850.4,919.2 1855.5,918.5 1855.5,917.7 1855.5,917.0 1855.5,916.2 1855.5,915.5 1855.5,914.8 1860.5,914.0 1860.5,913.3 1860.5,912.5 1860.5,911.8 1860.5,911.1 1860.5,910.3 1865.5,909.6 1865.5,908.8 1865.5,908.1 1865.5,907.9 1865.5,909.0 1865.5,910.0 1870.6,911.1 1870.6,912.1 1870.6,913.2 1870.6,914.2 1870.6,915.3 1870.6,916.3 1875.7,917.4 1875.7,918.4 1875.7,919.5 1875.7,920.5 1875.7,921.5 1875.7,922.3 1880.7,921.8 1880.7,921.3 1880.7,920.7 1880.7,920.2 1880.7,919.7 1880.7,919.2 1885.8,918.6 1885.8,918.1 1885.8,917.6 1885.8,917.1 1885.8,916.5 1885.8,916.0 1890.8,915.5 1890.8,915.0 1890.8,914.4 1890.8,913.9 1890.8,913.4 1890.8,912.9 1895.8,912.4 1895.8,912.0 1895.8,911.7 1895.8,911.3 1895.8,910.9 1895.8,910.6 1900.9,910.2 1900.9,909.8 1900.9,909.5 1900.9,909.1 1900.9,908.7 1900.9,908.4 1906.0,908.0 1906.0,907.6 1906.0,907.3 1906.0,906.9 1906.0,906.5 1906.0,906.2 1911.0,905.8 1911.0,905.5 1911.0,905.3 1911.0,905.1 1911.0,904.8 1911.0,904.6 1916.0,904.4 1916.0,904.2 1916.0,904.0 1916.0,903.7 1916.0,903.5 1916.0,903.3 1921.1,903.1 1921.1,902.9 1921.1,902.6 1921.1,902.4 1921.1,902.2 1921.1,902.0 1926.2,901.7 1926.2,901.5 1926.2,901.3 1926.2,901.1 1926.2,900.9 1926.2,900.6 1931.2,900.4 1931.2,900.2 1931.2,900.0 1931.2,899.8 1931.2,899.5 1931.2,899.3 1936.2,899.1 1936.2,898.9 1936.2,898.6 1936.2,898.6 1936.2,898.6 1936.2,898.6 1941.3,898.6 1941.3,898.6 1941.3,898.6 1941.3,898.6 1941.3,898.6 1941.3,898.6" stroke="#515151" stroke-width="13.8"/>
<polyline points="153.8,617.4 153.8,617.4 153.8,617.4 153.8,617.4 153.8,617.4 153.8,617.4 158.9,617.4 158.9,617.4 158.9,617.4 158.9,617.4 158.9,617.4 158.9,617.4 163.9,617.4 163.9,617.4 163.9,617.4 163.9,617.4 163.9,617.5 163.9,617.6 169.0,617.7 169.0,617.7 169.0,617.8 169.0,617.9 169.0,618.0 169.0,618.1 174.0,618.1 174.0,618.2 174.0,618.3 174.0,618.4 174.0,618.4 174.0,618.5 179.1,618.6 179.1,618.7 179.1,618.8 179.1,618.8 179.1,618.9 179.1,619.0 184.1,619.1 184.1,619.1 184.1,619.2 184.1,619.3 184.1,619.4 184.1,619.5 189.2,619.5 189.2,619.6 189.2,619.7 189.2,619.8 189.2,619.8 189.2,619.9 194.2,620.0 194.2,620.1 194.2,620.2 194.2,620.2 194.2,620.3 194.2,620.4 199.3,620.5 199.3,620.5 199.3,620.6 199.3,620.7 199.3,620.7 199.3,620.7 204.3,620.7 204.3,620.7 204.3,620.7 204.3,620.7 204.3,620.7 204.3,620.7 209.4,620.7 209.4,620.6 209.4,620.6 209.4,620.6 209.4,620.6 209.4,620.6 214.4,620.6 214.4,620.6 214.4,620.6 214.4,620.6 214.4,620.6 214.4,620.6 219.5,620.6 219.5,620.6 219.5,620.6 219.5,620.6 219.5,620.6 219.5,620.6 224.5,620.6 224.5,620.6 224.5,620.5 224.5,620.5 224.5,620.5 224.5,620.5 229.6,620.5 229.6,620.5 229.6,620.5 229.6,620.5 229.6,620.5 229.6,620.5 234.6,620.4 234.6,620.3 234.6,620.2 234.6,620.1 234.6,620.0 234.6,619.8 239.7,619.7 239.7,619.6 239.7,619.5 239.7,619.7 239.7,619.9 239.7,620.2 244.8,620.4 244.8,620.6 244.8,620.8 244.8,621.0 244.8,621.2 244.8,621.5 249.8,621.6 249.8,621.7 249.8,621.9 249.8,622.0 249.8,622.1 249.8,622.2 254.8,622.3 254.8,622.5 254.8,622.6 254.8,622.7 254.8,622.8 254.8,623.0 259.9,623.1 259.9,623.2 259.9,623.3 259.9,623.4 259.9,623.5 259.9,623.6 264.9,623.6 264.9,623.7 264.9,623.8 264.9,623.9 264.9,624.0 264.9,624.0 270.0,624.1 270.0,624.2 270.0,624.3 270.0,624.4 270.0,624.4 270.0,624.5 275.0,624.6 275.0,624.7 275.0,624.8 275.0,624.8 275.0,624.9 275.0,625.0 280.1,625.1 280.1,625.2 280.1,625.2 280.1,625.3 280.1,625.4 280.1,625.5 285.1,625.5 285.1,625.6 285.1,625.7 285.1,625.8 285.1,625.9 285.1,625.9 290.2,626.0 290.2,626.1 290.2,626.2 290.2,626.3 290.2,626.4 290.2,626.5 295.2,626.7 295.2,626.8 295.2,626.9 295.2,627.0 295.2,627.1 295.2,627.2 300.3,627.3 300.3,627.4 300.3,627.5 300.3,627.7 300.3,627.8 300.3,627.9 305.4,628.0 305.4,628.1 305.4,628.2 305.4,628.3 305.4,628.4 305.4,628.5 310.4,628.6 310.4,628.9 310.4,629.3 310.4,629.8 310.4,630.2 310.4,630.6 315.4,631.0 315.4,631.4 315.4,631.8 315.4,632.3 315.4,632.7 315.4,633.1 320.5,633.5 320.5,633.9 320.5,634.3 320.5,634.8 320.5,635.2 320.5,635.6 325.5,636.4 325.5,637.3 325.5,638.1 325.5,639.0 325.5,639.8 325.5,640.7 330.6,641.5 330.6,642.3 330.6,643.2 330.6,644.0 330.6,644.9 330.6,645.7 335.6,646.5 335.6,647.4 335.6,649.0 335.6,650.7 335.6,652.4 335.6,654.0 340.7,655.7 340.7,657.4 340.7,659.1 340.7,660.8 340.7,662.5 340.7,664.3 345.8,666.2 345.8,668.0 345.8,669.9 345.8,671.8 345.8,673.7 345.8,675.5 350.8,677.4 350.8,679.3 350.8,681.2 350.8,683.7 350.8,686.2 350.8,688.8 355.9,691.4 355.9,693.9 355.9,696.5 355.9,699.0 355.9,701.5 355.9,704.0 360.9,706.5 360.9,709.0 360.9,711.5 360.9,714.0 360.9,716.5 360.9,719.0 365.9,721.6 365.9,724.1 365.9,726.7 365.9,729.3 365.9,731.8 365.9,734.4 371.0,736.9 371.0,739.4 371.0,741.9 371.0,744.4 371.0,746.9 371.0,749.3 376.0,751.8 376.0,754.4 376.0,756.9 376.0,759.5 376.0,762.0 376.0,764.6 381.1,767.2 381.1,769.7 381.1,772.0 381.1,774.2 381.1,776.5 381.1,778.7 386.1,780.9 386.1,783.1 386.1,785.3 386.1,787.4 386.1,789.3 386.1,791.2 391.2,793.1 391.2,795.0 391.2,796.9 391.2,798.8 391.2,800.7 391.2,802.6 396.2,804.5 396.2,806.4 396.2,808.3 396.2,810.2 396.2,812.1 396.2,814.0 401.3,815.9 401.3,817.8 401.3,819.7 401.3,821.6 401.3,823.3 401.3,825.0 406.3,826.7 406.3,828.3 406.3,830.0 406.3,831.7 406.3,833.4 406.3,835.0 411.4,836.7 411.4,838.4 411.4,840.1 411.4,841.7 411.4,843.2 411.4,844.6 416.4,846.0 416.4,847.4 416.4,848.8 416.4,850.2 416.4,851.6 416.4,853.0 421.5,854.4 421.5,855.8 421.5,857.2 421.5,858.6 421.5,860.0 421.5,861.4 426.5,862.6 426.5,863.7 426.5,864.9 426.5,866.0 426.5,867.2 426.5,868.3 431.6,869.5 431.6,870.7 431.6,871.8 431.6,873.0 431.6,874.1 431.6,875.3 436.6,876.4 436.6,877.6 436.6,878.6 436.6,879.6 436.6,880.6 436.6,881.5 441.7,882.5 441.7,883.5 441.7,884.5 441.7,885.3 441.7,885.6 441.7,885.8 446.8,886.1 446.8,886.3 446.8,886.5 446.8,886.8 446.8,887.0 446.8,887.3 451.8,887.1 451.8,886.9 451.8,886.8 451.8,886.6 451.8,886.4 451.8,886.2 456.8,886.0 456.8,885.7 456.8,884.9 456.8,884.1 456.8,883.3 456.8,882.5 461.9,881.7 461.9,880.8 461.9,879.8 461.9,878.7 461.9,877.5 461.9,876.4 466.9,875.2 466.9,874.1 466.9,872.9 466.9,871.8 466.9,870.6 466.9,869.5 472.0,868.3 472.0,867.2 472.0,866.1 472.0,864.9 472.0,863.8 472.0,862.1 477.0,860.4 477.0,858.7 477.0,857.0 477.0,855.4 477.0,853.7 477.0,852.0 482.1,850.3 482.1,848.6 482.1,846.9 482.1,845.3 482.1,843.6 482.1,841.9 487.1,840.2 487.1,838.4 487.1,836.5 487.1,834.7 487.1,832.8 487.1,830.9 492.2,829.1 492.2,827.2 492.2,825.3 492.2,823.5 492.2,821.6 492.2,819.8 497.2,817.9 497.2,816.0 497.2,814.2 497.2,812.3 497.2,810.4 497.2,808.5 502.3,806.7 502.3,804.8 502.3,802.9 502.3,801.0 502.3,799.6 502.3,798.4 507.3,797.2 507.3,796.0 507.3,794.8 507.3,793.6 507.3,792.5 507.3,791.3 512.4,790.1 512.4,788.9 512.4,787.7 512.4,786.6 512.4,785.6 512.4,784.8 517.5,784.0 517.5,783.1 517.5,782.3 517.5,781.5 517.5,780.6 517.5,779.8 522.5,779.0 522.5,778.1 522.5,777.3 522.5,776.4 522.5,775.6 522.5,774.8 527.5,773.9 527.5,773.1 527.5,772.3 527.5,771.4 527.5,770.6 527.5,769.9 532.6,769.2 532.6,768.5 532.6,767.8 532.6,767.2 532.6,766.5 532.6,765.8 537.6,765.1 537.6,764.4 537.6,763.7 537.6,763.1 537.6,762.4 537.6,761.7 542.7,761.1 542.7,760.4 542.7,759.8 542.7,759.2 542.7,758.5 542.7,757.9 547.8,757.3 547.8,756.7 547.8,756.0 547.8,755.4 547.8,754.8 547.8,754.1 552.8,753.5 552.8,752.9 552.8,752.2 552.8,751.6 552.8,751.0 552.8,750.4 557.8,749.7 557.8,749.1 557.8,748.5 557.8,747.8 557.8,747.2 557.8,746.6 562.9,745.8 562.9,745.0 562.9,744.3 562.9,743.5 562.9,742.8 562.9,742.0 568.0,741.3 568.0,740.5 568.0,739.7 568.0,739.0 568.0,738.2 568.0,737.5 573.0,736.7 573.0,736.0 573.0,735.2 573.0,734.4 573.0,733.7 573.0,732.9 578.0,732.2 578.0,731.4 578.0,730.7 578.0,729.9 578.0,729.1 578.0,728.5 583.1,728.0 583.1,727.5 583.1,727.0 583.1,726.5 583.1,726.0 583.1,725.5 588.1,725.0 588.1,724.5 588.1,724.0 588.1,723.5 588.1,723.0 588.1,722.5 593.2,722.0 593.2,721.4 593.2,720.9 593.2,720.4 593.2,719.9 593.2,719.4 598.2,718.9 598.2,718.4 598.2,717.9 598.2,717.4 598.2,716.9 598.2,716.5 603.3,716.1 603.3,715.6 603.3,715.2 603.3,714.8 603.3,714.4 603.3,713.9 608.3,713.5 608.3,713.1 608.3,712.7 608.3,712.3 608.3,711.8 608.3,711.4 613.4,711.0 613.4,710.6 613.4,710.2 613.4,709.7 613.4,709.3 613.4,708.9 618.5,708.5 618.5,708.1 618.5,707.6 618.5,707.2 618.5,706.9 618.5,706.6 623.5,706.3 623.5,706.0 623.5,705.7 623.5,705.4 623.5,705.1 623.5,704.8 628.5,704.5 628.5,704.2 628.5,703.9 628.5,703.6 628.5,703.3 628.5,703.0 633.6,702.7 633.6,702.4 633.6,702.1 633.6,701.8 633.6,701.5 633.6,701.2 638.6,700.9 638.6,700.6 638.6,700.3 638.6,700.0 638.6,699.8 638.6,699.5 643.7,699.2 643.7,698.9 643.7,698.6 643.7,698.4 643.7,698.1 643.7,697.8 648.8,697.5 648.8,697.2 648.8,697.0 648.8,696.7 648.8,696.4 648.8,696.1 653.8,695.9 653.8,695.6 653.8,695.3 653.8,695.0 653.8,694.7 653.8,694.5 658.8,694.2 658.8,693.9 658.8,693.6 658.8,693.3 658.8,693.1 658.8,692.8 663.9,692.5 663.9,692.2 663.9,692.1 663.9,692.2 663.9,692.3 663.9,692.4 669.0,692.5 669.0,692.6 669.0,692.7 669.0,692.7 669.0,692.8 669.0,692.9 674.0,693.0 674.0,693.1 674.0,693.2 674.0,693.3 674.0,693.3 674.0,693.4 679.0,693.5 679.0,693.6 679.0,693.7 679.0,693.8 679.0,693.8 679.0,693.9 684.1,694.0 684.1,694.1 684.1,694.2 684.1,694.3 684.1,694.5 684.1,694.6 689.1,694.7 689.1,694.8 689.1,695.0 689.1,695.1 689.1,695.2 689.1,695.3 694.2,695.4 694.2,695.6 694.2,695.7 694.2,695.8 694.2,695.9 694.2,696.0 699.2,696.3 699.2,696.6 699.2,696.9 699.2,697.3 699.2,697.6 699.2,697.9 704.3,698.3 704.3,698.6 704.3,698.9 704.3,699.3 704.3,699.6 704.3,699.9 709.3,699.3 709.3,698.4 709.3,697.5 709.3,696.6 709.3,695.7 709.3,694.8 714.4,693.9 714.4,693.0 714.4,692.1 714.4,691.2 714.4,690.3 714.4,689.3 719.5,688.4 719.5,687.5 719.5,687.1 719.5,687.0 719.5,686.9 719.5,686.7 724.5,686.6 724.5,686.5 724.5,686.4 724.5,686.2 724.5,686.1 724.5,686.0 729.5,685.8 729.5,685.7 729.5,685.6 729.5,685.5 729.5,685.3 729.5,685.2 734.6,685.1 734.6,685.0 734.6,684.8 734.6,684.7 734.6,684.6 734.6,684.4 739.6,684.3 739.6,684.1 739.6,683.6 739.6,683.0 739.6,682.5 739.6,681.9 744.7,681.3 744.7,680.8 744.7,680.2 744.7,679.7 744.7,679.1 744.7,678.6 749.8,678.0 749.8,677.4 749.8,676.9 749.8,676.3 749.8,676.1 749.8,675.9 754.8,675.8 754.8,675.6 754.8,675.4 754.8,675.2 754.8,675.0 754.8,674.9 759.8,674.7 759.8,674.5 759.8,674.3 759.8,674.1 759.8,673.9 759.8,673.8 764.9,673.6 764.9,673.4 764.9,673.2 764.9,673.0 764.9,672.9 764.9,672.7 770.0,672.5 770.0,672.3 770.0,672.1 770.0,671.9 770.0,671.8 770.0,671.6 775.0,671.4 775.0,671.2 775.0,671.0 775.0,670.9 775.0,670.7 775.0,670.5 780.0,670.3 780.0,670.2 780.0,670.1 780.0,669.9 780.0,669.8 780.0,669.7 785.1,669.6 785.1,669.4 785.1,669.3 785.1,669.2 785.1,669.1 785.1,668.9 790.1,668.8 790.1,668.7 790.1,668.6 790.1,668.4 790.1,668.3 790.1,668.2 795.2,668.1 795.2,667.9 795.2,667.8 795.2,667.7 795.2,667.5 795.2,667.4 800.2,667.3 800.2,667.2 800.2,667.0 800.2,666.9 800.2,666.8 800.2,666.7 805.3,666.5 805.3,666.4 805.3,666.3 805.3,666.2 805.3,666.0 805.3,665.9 810.3,665.8 810.3,665.7 810.3,665.5 810.3,665.4 810.3,665.3 810.3,665.2 815.4,665.0 815.4,664.9 815.4,664.8 815.4,664.7 815.4,664.5 815.4,664.4 820.5,664.3 820.5,664.2 820.5,664.1 820.5,664.0 820.5,663.9 820.5,663.8 825.5,663.7 825.5,663.6 825.5,663.5 825.5,663.4 825.5,663.2 825.5,663.1 830.5,663.0 830.5,662.9 830.5,662.8 830.5,662.7 830.5,662.6 830.5,662.5 835.6,662.4 835.6,662.3 835.6,662.2 835.6,662.1 835.6,662.0 835.6,661.9 840.6,661.8 840.6,661.7 840.6,661.5 840.6,661.4 840.6,661.3 840.6,661.2 845.7,661.1 845.7,661.0 845.7,660.9 845.7,660.8 845.7,660.7 845.7,660.6 850.8,660.5 850.8,660.4 850.8,660.3 850.8,660.2 850.8,660.1 850.8,660.0 855.8,659.9 855.8,659.7 855.8,659.6 855.8,659.5 855.8,659.4 855.8,659.3 860.8,659.2 860.8,659.1 860.8,659.0 860.8,658.9 860.8,658.8 860.8,658.7 865.9,658.6 865.9,658.5 865.9,658.4 865.9,658.3 865.9,658.2 865.9,658.1 871.0,658.0 871.0,657.9 871.0,657.8 871.0,657.7 871.0,657.6 871.0,657.5 876.0,657.4 876.0,657.2 876.0,657.1 876.0,657.0 876.0,656.9 876.0,656.8 881.0,656.7 881.0,656.6 881.0,656.5 881.0,656.4 881.0,656.3 881.0,656.2 886.1,656.1 886.1,656.0 886.1,655.9 886.1,655.8 886.1,655.7 886.1,655.6 891.1,655.5 891.1,655.4 891.1,655.3 891.1,655.2 891.1,655.1 891.1,655.0 896.2,654.9 896.2,654.8 896.2,654.7 896.2,654.5 896.2,654.5 896.2,654.4 901.2,654.3 901.2,654.2 901.2,654.1 901.2,654.0 901.2,653.9 901.2,653.9 906.3,653.8 906.3,653.7 906.3,653.6 906.3,653.5 906.3,653.4 906.3,653.4 911.3,653.3 911.3,653.2 911.3,653.1 911.3,653.0 911.3,652.9 911.3,652.9 916.4,652.8 916.4,652.7 916.4,652.6 916.4,652.5 916.4,652.4 916.4,652.3 921.5,652.3 921.5,652.2 921.5,652.0 921.5,651.9 921.5,651.7 921.5,651.6 926.5,651.4 926.5,651.3 926.5,651.1 926.5,651.0 926.5,650.9 926.5,650.7 931.5,650.6 931.5,650.4 931.5,650.3 931.5,650.1 931.5,650.0 931.5,649.8 936.6,649.7 936.6,649.5 936.6,649.4 936.6,649.2 936.6,649.1 936.6,648.9 941.6,648.8 941.6,648.7 941.6,648.5 941.6,648.4 941.6,648.2 941.6,648.1 946.7,647.9 946.7,647.8 946.7,647.6 946.7,647.5 946.7,647.3 946.7,647.2 951.8,647.0 951.8,646.9 951.8,646.8 951.8,646.6 951.8,646.5 951.8,646.3 956.8,646.2 956.8,646.0 956.8,645.9 956.8,645.7 956.8,645.6 956.8,645.4 961.8,645.3 961.8,645.2 961.8,645.1 961.8,645.0 961.8,644.9 961.8,644.8 966.9,644.7 966.9,644.6 966.9,644.4 966.9,644.3 966.9,644.2 966.9,644.1 972.0,644.0 972.0,643.9 972.0,643.8 972.0,643.7 972.0,643.6 972.0,643.5 977.0,643.4 977.0,643.3 977.0,643.2 977.0,643.1 977.0,643.0 977.0,642.8 982.0,642.7 982.0,642.6 982.0,642.5 982.0,642.4 982.0,642.3 982.0,642.2 987.1,642.1 987.1,642.0 987.1,641.9 987.1,641.8 987.1,641.7 987.1,641.6 992.1,641.5 992.1,641.4 992.1,641.3 992.1,641.1 992.1,641.0 992.1,640.9 997.2,640.8 997.2,640.7 997.2,640.6 997.2,640.5 997.2,640.4 997.2,640.3 1002.2,640.2 1002.2,640.1 1002.2,640.1 1002.2,640.0 1002.2,639.9 1002.2,639.8 1007.3,639.7 1007.3,639.6 1007.3,639.6 1007.3,639.5 1007.3,639.4 1007.3,639.3 1012.3,639.2 1012.3,639.1 1012.3,639.1 1012.3,639.0 1012.3,638.9 1012.3,638.8 1017.4,638.7 1017.4,638.6 1017.4,638.6 1017.4,638.5 1017.4,638.4 1017.4,638.3 1022.5,638.2 1022.5,638.1 1022.5,638.1 1022.5,638.0 1022.5,637.9 1022.5,637.8 1027.5,637.7 1027.5,637.7 1027.5,637.6 1027.5,637.5 1027.5,637.4 1027.5,637.3 1032.5,637.2 1032.5,637.2 1032.5,637.1 1032.5,637.0 1032.5,636.9 1032.5,636.8 1037.6,636.7 1037.6,636.7 1037.6,636.6 1037.6,636.5 1037.6,636.4 1037.6,636.4 1042.6,636.4 1042.6,636.3 1042.6,636.3 1042.6,636.3 1042.6,636.3 1042.6,636.3 1047.7,636.2 1047.7,636.2 1047.7,636.2 1047.7,636.2 1047.7,636.1 1047.7,636.1 1052.8,636.1 1052.8,636.1 1052.8,636.1 1052.8,636.0 1052.8,636.0 1052.8,636.0 1057.8,636.0 1057.8,636.0 1057.8,635.9 1057.8,635.9 1057.8,635.9 1057.8,635.9 1062.8,635.9 1062.8,635.8 1062.8,635.8 1062.8,635.8 1062.8,635.8 1062.8,635.7 1067.9,635.7 1067.9,635.7 1067.9,635.7 1067.9,635.7 1067.9,635.6 1067.9,635.6 1073.0,635.6 1073.0,635.6 1073.0,635.6 1073.0,635.5 1073.0,635.5 1073.0,635.5 1078.0,635.5 1078.0,635.4 1078.0,635.4 1078.0,635.4 1078.0,635.4 1078.0,635.4 1083.0,635.4 1083.0,635.4 1083.0,635.4 1083.0,635.4 1083.0,635.3 1083.0,635.3 1088.1,635.3 1088.1,635.3 1088.1,635.3 1088.1,635.3 1088.1,635.3 1088.1,635.3 1093.1,635.3 1093.1,635.3 1093.1,635.3 1093.1,635.2 1093.1,635.2 1093.1,635.2 1098.2,635.2 1098.2,635.2 1098.2,635.2 1098.2,635.2 1098.2,635.2 1098.2,635.2 1103.2,635.2 1103.2,635.2 1103.2,635.2 1103.2,635.1 1103.2,635.1 1103.2,635.1 1108.3,635.1 1108.3,635.1 1108.3,635.1 1108.3,635.1 1108.3,635.1 1108.3,635.1 1113.3,635.1 1113.3,635.1 1113.3,635.1 1113.3,635.0 1113.3,635.0 1113.3,635.0 1118.4,635.0 1118.4,635.0 1118.4,635.0 1118.4,634.9 1118.4,634.8 1118.4,634.7 1123.5,634.6 1123.5,634.5 1123.5,634.4 1123.5,634.3 1123.5,634.2 1123.5,634.1 1128.5,634.0 1128.5,633.9 1128.5,633.8 1128.5,633.7 1128.5,633.6 1128.5,633.5 1133.5,633.4 1133.5,633.3 1133.5,633.2 1133.5,633.1 1133.5,633.0 1133.5,632.9 1138.6,632.8 1138.6,632.7 1138.6,632.6 1138.6,632.5 1138.6,632.4 1138.6,632.3 1143.6,632.2 1143.6,632.1 1143.6,632.0 1143.6,631.9 1143.6,631.8 1143.6,631.7 1148.7,631.6 1148.7,631.5 1148.7,631.3 1148.7,631.1 1148.7,630.9 1148.7,630.8 1153.8,630.6 1153.8,630.4 1153.8,630.2 1153.8,630.0 1153.8,629.8 1153.8,629.6 1158.8,629.4 1158.8,629.2 1158.8,629.0 1158.8,628.8 1158.8,628.6 1158.8,628.4 1163.8,628.2 1163.8,628.0 1163.8,627.8 1163.8,627.6 1163.8,627.4 1163.8,627.2 1168.9,627.0 1168.9,626.9 1168.9,626.7 1168.9,626.5 1168.9,626.3 1168.9,626.1 1174.0,625.9 1174.0,625.7 1174.0,625.5 1174.0,625.3 1174.0,625.1 1174.0,624.9 1179.0,624.7 1179.0,624.5 1179.0,624.4 1179.0,624.2 1179.0,624.1 1179.0,623.9 1184.0,623.8 1184.0,623.7 1184.0,623.5 1184.0,623.4 1184.0,623.2 1184.0,623.1 1189.1,623.0 1189.1,622.8 1189.1,622.7 1189.1,622.5 1189.1,622.4 1189.1,622.3 1194.2,622.1 1194.2,622.0 1194.2,621.8 1194.2,621.7 1194.2,621.5 1194.2,621.4 1199.2,621.3 1199.2,621.1 1199.2,621.0 1199.2,620.8 1199.2,620.7 1199.2,620.6 1204.2,620.4 1204.2,620.3 1204.2,620.1 1204.2,620.0 1204.2,619.9 1204.2,619.7 1209.3,619.6 1209.3,619.5 1209.3,619.4 1209.3,619.3 1209.3,619.3 1209.3,619.2 1214.3,619.1 1214.3,619.1 1214.3,619.0 1214.3,618.9 1214.3,618.9 1214.3,618.8 1219.4,618.7 1219.4,618.6 1219.4,618.6 1219.4,618.5 1219.4,618.4 1219.4,618.4 1224.5,618.3 1224.5,618.2 1224.5,618.2 1224.5,618.1 1224.5,618.0 1224.5,618.0 1229.5,617.9 1229.5,617.8 1229.5,617.8 1229.5,617.7 1229.5,617.6 1229.5,617.6 1234.5,617.5 1234.5,617.4 1234.5,617.4 1234.5,617.3 1234.5,617.2 1234.5,617.2 1239.6,617.1 1239.6,617.1 1239.6,617.1 1239.6,617.2 1239.6,617.2 1239.6,617.2 1244.7,617.2 1244.7,617.2 1244.7,617.2 1244.7,617.3 1244.7,617.3 1244.7,617.3 1249.7,617.3 1249.7,617.3 1249.7,617.3 1249.7,617.4 1249.7,617.4 1249.7,617.4 1254.8,617.4 1254.8,617.4 1254.8,617.4 1254.8,617.5 1254.8,617.5 1254.8,617.5 1259.8,617.6 1259.8,617.7 1259.8,617.8 1259.8,618.0 1259.8,618.1 1259.8,618.2 1264.8,618.4 1264.8,618.5 1264.8,618.6 1264.8,618.7 1264.8,618.9 1264.8,619.0 1269.9,619.1 1269.9,619.2 1269.9,619.4 1269.9,619.5 1269.9,619.6 1269.9,619.7 1275.0,619.9 1275.0,620.0 1275.0,620.1 1275.0,620.3 1275.0,620.4 1275.0,620.5 1280.0,620.9 1280.0,621.2 1280.0,621.6 1280.0,622.0 1280.0,622.3 1280.0,622.7 1285.0,623.0 1285.0,623.4 1285.0,623.7 1285.0,624.1 1285.0,624.5 1285.0,624.8 1290.1,625.2 1290.1,625.5 1290.1,625.9 1290.1,626.2 1290.1,626.9 1290.1,627.8 1295.2,628.7 1295.2,629.6 1295.2,630.6 1295.2,631.5 1295.2,632.4 1295.2,633.3 1300.2,634.2 1300.2,635.1 1300.2,636.0 1300.2,636.9 1300.2,637.9 1300.2,638.8 1305.2,640.0 1305.2,641.7 1305.2,643.4 1305.2,645.1 1305.2,646.8 1305.2,648.5 1310.3,650.2 1310.3,651.9 1310.3,653.5 1310.3,655.3 1310.3,657.8 1310.3,660.3 1315.3,662.9 1315.3,665.4 1315.3,668.0 1315.3,670.5 1315.3,673.0 1315.3,674.9 1320.4,676.7 1320.4,678.5 1320.4,680.3 1320.4,682.2 1320.4,684.0 1320.4,685.8 1325.5,687.7 1325.5,689.0 1325.5,690.3 1325.5,691.5 1325.5,692.8 1325.5,694.1 1330.5,695.3 1330.5,696.6 1330.5,697.8 1330.5,699.1 1330.5,700.4 1330.5,701.6 1335.5,702.9 1335.5,704.6 1335.5,706.3 1335.5,708.0 1335.5,709.7 1335.5,711.4 1340.6,713.1 1340.6,714.8 1340.6,716.4 1340.6,718.1 1340.6,720.0 1340.6,721.9 1345.7,723.8 1345.7,725.7 1345.7,727.6 1345.7,729.4 1345.7,731.3 1345.7,733.2 1350.7,735.1 1350.7,736.8 1350.7,738.1 1350.7,739.3 1350.7,740.5 1350.7,741.7 1355.8,742.9 1355.8,744.1 1355.8,745.3 1355.8,746.5 1355.8,747.7 1355.8,747.2 1360.8,746.2 1360.8,745.2 1360.8,744.2 1360.8,743.2 1360.8,742.2 1360.8,741.1 1365.8,740.1 1365.8,739.1 1365.8,737.2 1365.8,733.8 1365.8,730.4 1365.8,727.0 1370.9,723.6 1370.9,720.2 1370.9,716.8 1370.9,713.8 1370.9,711.6 1370.9,709.4 1376.0,707.2 1376.0,704.9 1376.0,702.7 1376.0,700.5 1376.0,698.7 1376.0,698.1 1381.0,697.6 1381.0,697.1 1381.0,696.6 1381.0,696.1 1381.0,695.5 1381.0,695.0 1386.0,694.5 1386.0,694.0 1386.0,693.9 1386.0,694.0 1386.0,694.1 1386.0,694.1 1391.1,694.2 1391.1,694.2 1391.1,694.3 1391.1,694.3 1391.1,694.4 1391.1,694.4 1396.2,694.5 1396.2,694.5 1396.2,694.6 1396.2,694.6 1396.2,694.7 1396.2,694.7 1401.2,694.8 1401.2,694.8 1401.2,694.9 1401.2,694.3 1401.2,693.7 1401.2,693.1 1406.2,692.5 1406.2,691.9 1406.2,691.3 1406.2,690.7 1406.2,690.1 1406.2,689.5 1411.3,688.9 1411.3,688.3 1411.3,687.7 1411.3,687.1 1411.3,686.5 1411.3,685.9 1416.3,685.3 1416.3,684.7 1416.3,684.1 1416.3,683.5 1416.3,682.9 1416.3,682.3 1421.4,681.7 1421.4,681.1 1421.4,680.5 1421.4,679.9 1421.4,679.3 1421.4,678.7 1426.5,678.1 1426.5,677.5 1426.5,676.8 1426.5,676.2 1426.5,675.6 1426.5,675.0 1431.5,675.2 1431.5,675.3 1431.5,675.5 1431.5,675.7 1431.5,675.8 1431.5,676.0 1436.5,676.2 1436.5,676.4 1436.5,676.5 1436.5,676.7 1436.5,676.9 1436.5,677.1 1441.6,677.3 1441.6,677.6 1441.6,677.9 1441.6,678.2 1441.6,678.5 1441.6,678.7 1446.7,679.0 1446.7,679.3 1446.7,679.6 1446.7,679.9 1446.7,680.2 1446.7,680.4 1451.7,680.7 1451.7,681.0 1451.7,680.8 1451.7,680.6 1451.7,680.4 1451.7,680.3 1456.8,680.1 1456.8,679.9 1456.8,679.7 1456.8,679.5 1456.8,679.4 1456.8,679.2 1461.8,679.0 1461.8,678.8 1461.8,678.6 1461.8,678.4 1461.8,678.3 1461.8,678.1 1466.8,678.2 1466.8,678.6 1466.8,679.1 1466.8,679.5 1466.8,679.9 1466.8,680.3 1471.9,680.8 1471.9,681.2 1471.9,681.6 1471.9,682.0 1471.9,682.5 1471.9,682.9 1477.0,683.3 1477.0,683.7 1477.0,684.5 1477.0,685.9 1477.0,687.3 1477.0,688.6 1482.0,690.0 1482.0,691.9 1482.0,695.3 1482.0,698.7 1482.0,701.0 1482.0,701.0 1487.0,701.0 1487.0,701.0 1487.0,693.6 1487.0,683.7 1487.0,674.0 1487.0,673.3 1492.1,672.6 1492.1,671.9 1492.1,671.2 1492.1,670.6 1492.1,669.9 1492.1,669.2 1497.2,668.5 1497.2,667.8 1497.2,667.1 1497.2,666.4 1497.2,666.1 1497.2,666.1 1502.2,666.0 1502.2,666.0 1502.2,666.0 1502.2,665.9 1502.2,665.9 1502.2,665.9 1507.2,665.9 1507.2,665.8 1507.2,665.8 1507.2,665.8 1507.2,665.7 1507.2,665.7 1512.3,665.7 1512.3,665.7 1512.3,665.6 1512.3,665.6 1512.3,665.6 1512.3,665.5 1517.3,665.5 1517.3,665.5 1517.3,665.5 1517.3,665.4 1517.3,665.4 1517.3,665.4 1522.4,665.3 1522.4,665.3 1522.4,665.3 1522.4,665.3 1522.4,665.2 1522.4,665.2 1527.5,665.2 1527.5,665.2 1527.5,665.1 1527.5,665.2 1527.5,665.5 1527.5,665.9 1532.5,666.3 1532.5,666.7 1532.5,667.0 1532.5,667.4 1532.5,667.8 1532.5,668.1 1537.5,668.5 1537.5,668.9 1537.5,669.3 1537.5,669.6 1537.5,670.0 1537.5,670.4 1542.6,670.7 1542.6,671.1 1542.6,671.5 1542.6,671.9 1542.6,672.2 1542.6,672.6 1547.7,673.0 1547.7,672.8 1547.7,672.5 1547.7,672.2 1547.7,672.0 1547.7,671.7 1552.7,671.5 1552.7,671.2 1552.7,670.9 1552.7,670.7 1552.7,670.4 1552.7,670.1 1557.8,669.9 1557.8,669.6 1557.8,669.4 1557.8,669.1 1557.8,668.8 1557.8,668.6 1562.8,668.3 1562.8,668.0 1562.8,667.7 1562.8,667.3 1562.8,666.9 1562.8,666.5 1567.8,666.2 1567.8,665.8 1567.8,665.4 1567.8,665.0 1567.8,664.7 1567.8,664.3 1572.9,663.9 1572.9,663.5 1572.9,663.1 1572.9,662.8 1572.9,662.4 1572.9,662.0 1578.0,661.6 1578.0,661.3 1578.0,660.9 1578.0,660.5 1578.0,660.1 1578.0,659.8 1583.0,659.4 1583.0,659.2 1583.0,659.2 1583.0,659.1 1583.0,659.1 1583.0,659.1 1588.0,659.0 1588.0,659.0 1588.0,659.0 1588.0,658.9 1588.0,658.9 1588.0,658.9 1593.1,658.8 1593.1,658.8 1593.1,658.8 1593.1,658.7 1593.1,658.7 1593.1,658.7 1598.2,658.6 1598.2,658.6 1598.2,658.6 1598.2,658.5 1598.2,658.5 1598.2,658.5 1603.2,658.4 1603.2,658.4 1603.2,658.4 1603.2,658.3 1603.2,658.3 1603.2,658.3 1608.2,658.2 1608.2,658.2 1608.2,658.3 1608.2,658.5 1608.2,658.6 1608.2,658.8 1613.3,658.9 1613.3,659.1 1613.3,659.2 1613.3,659.3 1613.3,659.5 1613.3,659.6 1618.3,659.8 1618.3,659.9 1618.3,660.1 1618.3,660.2 1618.3,660.4 1618.3,660.5 1623.4,660.7 1623.4,660.8 1623.4,661.0 1623.4,661.1 1623.4,661.4 1623.4,661.7 1628.5,662.1 1628.5,662.4 1628.5,662.7 1628.5,663.0 1628.5,663.3 1628.5,663.6 1633.5,664.0 1633.5,664.3 1633.5,664.6 1633.5,664.9 1633.5,665.2 1633.5,665.6 1638.5,665.9 1638.5,666.2 1638.5,666.5 1638.5,666.8 1638.5,667.1 1638.5,667.1 1643.6,667.1 1643.6,667.1 1643.6,667.1 1643.6,667.1 1643.6,667.1 1643.6,667.1 1648.7,667.1 1648.7,667.1 1648.7,667.1 1648.7,667.1 1648.7,667.1 1648.7,667.1 1653.7,667.1 1653.7,667.1 1653.7,667.1 1653.7,667.1 1653.7,667.1 1653.7,666.9 1658.8,666.5 1658.8,666.1 1658.8,665.7 1658.8,665.2 1658.8,664.8 1658.8,664.4 1663.8,664.0 1663.8,663.6 1663.8,663.1 1663.8,662.7 1663.8,662.3 1663.8,661.9 1668.8,661.4 1668.8,660.9 1668.8,659.9 1668.8,658.9 1668.8,658.0 1668.8,657.0 1673.9,656.0 1673.9,655.0 1673.9,654.1 1673.9,653.1 1673.9,652.1 1673.9,651.1 1679.0,650.1 1679.0,649.2 1679.0,648.2 1679.0,647.3 1679.0,646.8 1679.0,646.3 1684.0,645.8 1684.0,645.3 1684.0,644.8 1684.0,644.4 1684.0,643.9 1684.0,643.4 1689.0,642.9 1689.0,642.4 1689.0,641.9 1689.0,641.4 1689.0,641.0 1689.0,640.5 1694.1,640.0 1694.1,639.5 1694.1,639.1 1694.1,638.6 1694.1,638.2 1694.1,637.8 1699.2,637.4 1699.2,637.0 1699.2,636.6 1699.2,636.1 1699.2,635.7 1699.2,635.3 1704.2,634.9 1704.2,634.5 1704.2,634.0 1704.2,633.6 1704.2,633.2 1704.2,632.8 1709.2,632.4 1709.2,631.7 1709.2,631.1 1709.2,630.5 1709.2,629.8 1709.2,629.2 1714.3,628.6 1714.3,628.0 1714.3,627.3 1714.3,626.7 1714.3,626.1 1714.3,625.4 1719.3,624.8 1719.3,624.2 1719.3,623.6 1719.3,623.1 1719.3,622.7 1719.3,622.3 1724.4,621.8 1724.4,621.4 1724.4,621.0 1724.4,620.6 1724.4,620.1 1724.4,619.7 1729.5,619.3 1729.5,618.9 1729.5,618.5 1729.5,618.6 1729.5,618.8 1729.5,618.9 1734.5,619.0 1734.5,619.1 1734.5,619.2 1734.5,619.4 1734.5,619.5 1734.5,619.6 1739.5,619.7 1739.5,619.9 1739.5,620.0 1739.5,620.1 1739.5,620.2 1739.5,620.3 1744.6,620.5 1744.6,620.5 1744.6,620.6 1744.6,620.6 1744.6,620.7 1744.6,620.7 1749.7,620.8 1749.7,620.9 1749.7,620.9 1749.7,621.0 1749.7,621.0 1749.7,621.1 1754.7,621.1 1754.7,621.2 1754.7,621.2 1754.7,621.3 1754.7,621.3 1754.7,621.4 1759.8,621.4 1759.8,621.5 1759.8,622.1 1759.8,623.0 1759.8,623.8 1759.8,624.7 1764.8,625.5 1764.8,626.3 1764.8,627.2 1764.8,628.0 1764.8,628.9 1764.8,629.7 1769.8,630.4 1769.8,631.2 1769.8,631.9 1769.8,632.7 1769.8,633.4 1769.8,634.1 1774.9,634.9 1774.9,635.6 1774.9,636.4 1774.9,636.4 1774.9,636.5 1774.9,636.5 1780.0,636.5 1780.0,636.6 1780.0,636.6 1780.0,636.6 1780.0,636.7 1780.0,636.7 1785.0,636.7 1785.0,636.7 1785.0,636.8 1785.0,636.8 1785.0,636.8 1785.0,636.9 1790.0,636.9 1790.0,636.9 1790.0,637.0 1790.0,637.0 1790.0,637.0 1790.0,637.1 1795.1,637.1 1795.1,637.1 1795.1,637.2 1795.1,637.2 1795.1,637.2 1795.1,637.3 1800.2,637.3 1800.2,637.4 1800.2,637.5 1800.2,637.7 1800.2,637.8 1800.2,638.0 1805.2,638.1 1805.2,638.2 1805.2,638.4 1805.2,638.5 1805.2,638.7 1805.2,638.8 1810.2,639.0 1810.2,639.1 1810.2,639.2 1810.2,639.5 1810.2,640.0 1810.2,640.4 1815.3,640.8 1815.3,641.2 1815.3,641.7 1815.3,642.1 1815.3,642.5 1815.3,642.9 1820.3,643.4 1820.3,643.8 1820.3,644.2 1820.3,644.6 1820.3,645.1 1820.3,645.3 1825.4,645.5 1825.4,645.6 1825.4,645.7 1825.4,645.8 1825.4,645.9 1825.4,646.0 1830.5,646.1 1830.5,646.2 1830.5,646.3 1830.5,646.4 1830.5,646.5 1830.5,646.6 1835.5,646.7 1835.5,646.8 1835.5,646.9 1835.5,647.0 1835.5,647.1 1835.5,647.3 1840.5,647.4 1840.5,647.7 1840.5,648.0 1840.5,648.2 1840.5,648.5 1840.5,648.7 1845.6,649.0 1845.6,649.3 1845.6,649.5 1845.6,649.8 1845.6,650.0 1845.6,650.3 1850.7,650.6 1850.7,650.8 1850.7,651.1 1850.7,651.4 1850.7,651.6 1850.7,651.9 1855.7,652.1 1855.7,652.5 1855.7,652.9 1855.7,653.2 1855.7,653.6 1855.7,654.0 1860.8,654.3 1860.8,654.7 1860.8,655.1 1860.8,655.4 1860.8,655.8 1860.8,656.2 1865.8,656.6 1865.8,656.9 1865.8,657.3 1865.8,657.7 1865.8,658.0 1865.8,658.4 1870.8,658.8 1870.8,659.2 1870.8,659.4 1870.8,659.6 1870.8,659.9 1870.8,660.1 1875.9,660.3 1875.9,660.6 1875.9,660.8 1875.9,661.1 1875.9,661.3 1875.9,661.5 1881.0,661.8 1881.0,662.0 1881.0,662.2 1881.0,662.5 1881.0,662.7 1881.0,662.9 1886.0,663.1 1886.0,663.1 1886.0,663.1 1886.0,663.1 1886.0,663.1 1886.0,663.1 1891.0,663.1 1891.0,663.1 1891.0,663.1 1891.0,663.1 1891.0,663.1 1891.0,663.1 1896.1,663.1 1896.1,663.1 1896.1,663.1 1896.1,663.1 1896.1,663.1 1896.1,663.1 1901.2,663.1 1901.2,663.1 1901.2,663.1 1901.2,663.1 1901.2,662.9 1901.2,662.6 1906.2,662.4 1906.2,662.2 1906.2,662.0 1906.2,661.8 1906.2,661.6 1906.2,661.4 1911.2,661.2 1911.2,661.0 1911.2,660.8 1911.2,660.6 1911.2,660.4 1911.2,660.2 1916.3,660.0 1916.3,659.8 1916.3,659.5 1916.3,659.3 1916.3,659.1 1916.3,658.8 1921.3,658.4 1921.3,658.1 1921.3,657.7 1921.3,657.4 1921.3,657.1 1921.3,656.7 1926.4,656.4 1926.4,656.0 1926.4,655.7 1926.4,655.4 1926.4,655.0 1926.4,654.7 1931.5,654.3 1931.5,654.0 1931.5,653.7 1931.5,653.3 1931.5,653.0 1931.5,652.8 1936.5,652.5 1936.5,652.2 1936.5,652.0 1936.5,652.0 1936.5,652.0 1936.5,652.0 1941.5,652.0 1941.5,652.0 1941.5,652.0 1941.5,652.0 1941.5,652.0 1941.5,652.0" stroke="#F14040" stroke-width="13.8"/>
<polyline points="154.1,131.7 154.1,131.7 154.1,131.7 154.1,131.7 154.1,131.7 154.1,131.7 159.1,131.7 159.1,131.7 159.1,131.7 159.1,131.7 159.1,131.7 159.1,131.7 164.2,131.7 164.2,131.7 164.2,131.7 164.2,131.7 164.2,131.7 164.2,131.8 169.2,131.8 169.2,131.8 169.2,131.8 169.2,131.8 169.2,131.9 169.2,131.9 174.2,131.9 174.2,131.9 174.2,131.9 174.2,132.0 174.2,132.0 174.2,132.0 179.3,132.0 179.3,132.1 179.3,132.1 179.3,132.1 179.3,132.1 179.3,132.1 184.3,132.2 184.3,132.2 184.3,132.2 184.3,132.2 184.3,132.2 184.3,132.3 189.4,132.3 189.4,132.3 189.4,132.3 189.4,132.4 189.4,132.4 189.4,132.4 194.4,132.4 194.4,132.4 194.4,132.5 194.4,132.5 194.4,132.5 194.4,132.5 199.5,132.5 199.5,132.6 199.5,132.6 199.5,132.6 199.5,132.6 199.5,132.6 204.6,132.7 204.6,132.7 204.6,132.7 204.6,132.7 204.6,132.8 204.6,132.8 209.6,132.8 209.6,132.9 209.6,132.9 209.6,133.0 209.6,133.1 209.6,133.2 214.7,133.3 214.7,133.3 214.7,133.4 214.7,133.5 214.7,134.1 214.7,134.6 219.7,135.1 219.7,135.6 219.7,136.2 219.7,136.0 219.7,135.7 219.7,135.3 224.8,135.0 224.8,134.6 224.8,134.3 224.8,134.0 224.8,134.1 224.8,134.1 229.8,134.2 229.8,134.2 229.8,134.3 229.8,134.3 229.8,134.4 229.8,134.4 234.9,134.5 234.9,135.0 234.9,135.8 234.9,136.5 234.9,137.2 234.9,138.0 239.9,139.0 239.9,140.1 239.9,141.2 239.9,140.7 239.9,139.3 239.9,137.8 244.9,136.8 244.9,136.3 244.9,135.7 244.9,135.2 244.9,134.7 244.9,134.2 250.0,134.2 250.0,134.3 250.0,134.3 250.0,134.4 250.0,134.4 250.0,134.5 255.1,134.5 255.1,134.5 255.1,134.6 255.1,134.6 255.1,134.7 255.1,134.7 260.1,134.7 260.1,134.8 260.1,134.9 260.1,135.0 260.1,135.1 260.1,135.2 265.1,135.3 265.1,135.4 265.1,135.5 265.1,135.6 265.1,135.7 265.1,135.8 270.2,135.9 270.2,136.0 270.2,136.1 270.2,136.2 270.2,136.3 270.2,136.4 275.2,136.5 275.2,136.6 275.2,136.7 275.2,136.8 275.2,136.9 275.2,137.0 280.3,137.1 280.3,137.2 280.3,137.3 280.3,137.4 280.3,137.5 280.3,137.6 285.4,137.9 285.4,138.4 285.4,138.9 285.4,139.4 285.4,140.0 285.4,140.5 290.4,141.0 290.4,141.5 290.4,142.1 290.4,142.6 290.4,143.1 290.4,143.7 295.4,144.2 295.4,144.7 295.4,145.2 295.4,145.8 295.4,146.3 295.4,146.8 300.5,147.3 300.5,147.7 300.5,147.8 300.5,148.0 300.5,148.2 300.5,148.3 305.6,148.5 305.6,148.6 305.6,148.8 305.6,149.0 305.6,149.1 305.6,149.3 310.6,149.4 310.6,149.6 310.6,149.8 310.6,149.9 310.6,150.1 310.6,150.3 315.6,150.4 315.6,150.6 315.6,150.8 315.6,150.9 315.6,151.1 315.6,151.3 320.7,151.4 320.7,151.6 320.7,151.8 320.7,152.0 320.7,152.1 320.7,152.3 325.8,152.5 325.8,152.7 325.8,152.8 325.8,153.0 325.8,153.2 325.8,153.3 330.8,153.6 330.8,154.3 330.8,155.1 330.8,155.8 330.8,156.5 330.8,157.3 335.9,158.0 335.9,158.8 335.9,159.5 335.9,160.2 335.9,161.0 335.9,161.7 340.9,162.5 340.9,163.2 340.9,164.0 340.9,164.7 340.9,165.4 340.9,166.2 345.9,166.9 345.9,168.2 345.9,170.4 345.9,172.6 345.9,174.9 345.9,177.1 351.0,179.3 351.0,181.5 351.0,183.7 351.0,185.3 351.0,187.0 351.0,188.7 356.1,190.3 356.1,192.0 356.1,193.7 356.1,195.4 356.1,197.0 356.1,198.7 361.1,200.4 361.1,202.1 361.1,203.8 361.1,205.5 361.1,207.2 361.1,208.9 366.1,210.6 366.1,212.3 366.1,214.0 366.1,215.6 366.1,216.9 366.1,218.3 371.2,219.6 371.2,220.9 371.2,222.3 371.2,223.6 371.2,225.0 371.2,226.3 376.2,227.6 376.2,229.0 376.2,230.3 376.2,231.8 376.2,233.3 376.2,234.8 381.3,236.3 381.3,237.9 381.3,239.4 381.3,240.9 381.3,242.5 381.3,244.0 386.4,245.5 386.4,247.0 386.4,248.6 386.4,250.1 386.4,251.6 386.4,253.1 391.4,254.6 391.4,256.1 391.4,257.6 391.4,259.1 391.4,260.6 391.4,262.1 396.4,263.6 396.4,265.1 396.4,266.6 396.4,267.8 396.4,269.0 396.4,270.2 401.5,271.4 401.5,272.6 401.5,273.8 401.5,275.0 401.5,276.2 401.5,277.4 406.5,278.6 406.5,279.8 406.5,281.0 406.5,282.2 406.5,283.4 406.5,284.6 411.6,285.8 411.6,286.9 411.6,287.8 411.6,288.8 411.6,289.8 411.6,290.7 416.6,291.7 416.6,292.6 416.6,293.6 416.6,294.5 416.6,295.5 416.6,296.4 421.7,297.4 421.7,298.3 421.7,299.3 421.7,300.2 421.7,301.2 421.7,302.2 426.8,303.1 426.8,304.1 426.8,304.8 426.8,305.5 426.8,306.2 426.8,306.9 431.8,307.6 431.8,308.3 431.8,309.0 431.8,309.7 431.8,310.4 431.8,311.1 436.9,311.8 436.9,312.5 436.9,313.2 436.9,313.9 436.9,314.4 436.9,314.9 441.9,315.3 441.9,315.7 441.9,316.1 441.9,316.5 441.9,316.9 441.9,317.3 447.0,317.7 447.0,318.1 447.0,318.6 447.0,319.0 447.0,319.4 447.0,319.8 452.0,319.9 452.0,319.8 452.0,319.7 452.0,319.5 452.0,319.4 452.0,319.2 457.0,319.1 457.0,318.9 457.0,318.8 457.0,318.7 457.0,318.5 457.0,318.4 462.1,318.2 462.1,318.1 462.1,317.8 462.1,317.1 462.1,316.4 462.1,315.7 467.1,315.0 467.1,314.3 467.1,313.6 467.1,312.9 467.1,312.2 467.1,311.5 472.2,310.8 472.2,310.1 472.2,309.5 472.2,308.8 472.2,308.0 472.2,306.9 477.2,305.7 477.2,304.6 477.2,303.5 477.2,302.4 477.2,301.3 477.2,300.2 482.3,299.0 482.3,297.9 482.3,296.8 482.3,295.7 482.3,294.6 482.3,293.5 487.4,292.3 487.4,291.1 487.4,289.8 487.4,288.5 487.4,287.3 487.4,286.0 492.4,284.7 492.4,283.5 492.4,282.2 492.4,280.9 492.4,279.7 492.4,278.4 497.5,277.1 497.5,275.9 497.5,274.6 497.5,273.5 497.5,272.4 497.5,271.2 502.5,270.1 502.5,269.0 502.5,267.9 502.5,266.8 502.5,265.7 502.5,264.5 507.5,263.4 507.5,262.3 507.5,261.2 507.5,260.1 507.5,258.9 507.5,258.2 512.6,257.6 512.6,256.9 512.6,256.3 512.6,255.7 512.6,255.0 512.6,254.4 517.6,253.8 517.6,253.1 517.6,252.5 517.6,251.9 517.6,251.2 517.6,250.6 522.7,249.9 522.7,249.3 522.7,248.7 522.7,248.0 522.7,247.4 522.7,246.8 527.8,245.9 527.8,244.9 527.8,244.0 527.8,243.1 527.8,242.2 527.8,241.2 532.8,240.3 532.8,239.4 532.8,238.4 532.8,237.5 532.8,236.6 532.8,235.6 537.9,234.7 537.9,233.8 537.9,232.8 537.9,231.9 537.9,231.0 537.9,230.1 542.9,229.4 542.9,228.7 542.9,228.1 542.9,227.4 542.9,226.8 542.9,226.1 548.0,225.5 548.0,224.8 548.0,224.2 548.0,223.5 548.0,222.9 548.0,222.2 553.0,221.6 553.0,220.9 553.0,220.3 553.0,219.6 553.0,219.0 553.0,218.3 558.0,217.7 558.0,217.0 558.0,216.4 558.0,215.7 558.0,215.1 558.0,214.4 563.1,213.6 563.1,212.9 563.1,212.1 563.1,211.4 563.1,210.6 563.1,209.8 568.1,209.1 568.1,208.3 568.1,207.6 568.1,206.8 568.1,206.1 568.1,205.3 573.2,204.5 573.2,203.8 573.2,203.0 573.2,202.3 573.2,201.5 573.2,200.8 578.2,200.0 578.2,199.2 578.2,198.5 578.2,197.7 578.2,197.0 578.2,196.3 583.3,195.6 583.3,194.9 583.3,194.3 583.3,193.6 583.3,192.9 583.3,192.2 588.4,191.6 588.4,190.9 588.4,190.2 588.4,189.6 588.4,188.9 588.4,188.2 593.4,187.5 593.4,186.9 593.4,186.2 593.4,185.5 593.4,184.9 593.4,184.2 598.5,183.5 598.5,182.8 598.5,182.2 598.5,181.5 598.5,180.9 598.5,180.5 603.5,180.1 603.5,179.8 603.5,179.4 603.5,179.0 603.5,178.6 603.5,178.2 608.5,177.8 608.5,177.5 608.5,177.1 608.5,176.7 608.5,176.3 608.5,175.9 613.6,175.5 613.6,175.2 613.6,174.8 613.6,174.4 613.6,174.0 613.6,173.6 618.6,173.3 618.6,172.9 618.6,172.5 618.6,172.1 618.6,171.8 618.6,171.4 623.7,171.1 623.7,170.8 623.7,170.4 623.7,170.1 623.7,169.8 623.7,169.4 628.8,169.1 628.8,168.7 628.8,168.4 628.8,168.1 628.8,167.7 628.8,167.4 633.8,167.1 633.8,166.7 633.8,166.4 633.8,166.1 633.8,165.7 633.8,165.4 638.9,165.1 638.9,164.7 638.9,164.4 638.9,164.1 638.9,163.8 638.9,163.6 643.9,163.3 643.9,163.1 643.9,162.8 643.9,162.6 643.9,162.3 643.9,162.1 648.9,161.8 648.9,161.6 648.9,161.3 648.9,161.1 648.9,160.8 648.9,160.6 654.0,160.3 654.0,160.1 654.0,159.8 654.0,159.6 654.0,159.3 654.0,159.1 659.0,158.8 659.0,158.6 659.0,158.3 659.0,158.2 659.0,158.3 659.0,158.3 664.1,158.4 664.1,158.4 664.1,158.4 664.1,158.5 664.1,158.5 664.1,158.6 669.1,158.6 669.1,158.6 669.1,158.7 669.1,158.7 669.1,158.8 669.1,158.8 674.2,158.9 674.2,158.9 674.2,158.9 674.2,159.0 674.2,159.0 674.2,159.1 679.2,159.1 679.2,159.2 679.2,159.2 679.2,159.2 679.2,159.2 679.2,159.2 684.3,159.2 684.3,159.2 684.3,159.2 684.3,159.2 684.3,159.2 684.3,159.2 689.3,159.2 689.3,159.2 689.3,159.2 689.3,159.2 689.3,159.2 689.3,159.2 694.4,159.2 694.4,159.2 694.4,159.2 694.4,159.2 694.4,159.4 694.4,159.6 699.4,159.8 699.4,160.0 699.4,160.3 699.4,160.5 699.4,160.7 699.4,160.9 704.5,161.1 704.5,161.3 704.5,161.5 704.5,161.7 704.5,161.9 704.5,162.1 709.5,161.6 709.5,161.1 709.5,160.6 709.5,160.1 709.5,159.7 709.5,159.2 714.6,158.7 714.6,158.2 714.6,157.7 714.6,157.2 714.6,156.7 714.6,156.2 719.6,155.8 719.6,155.3 719.6,155.1 719.6,154.9 719.6,154.7 719.6,154.5 724.7,154.4 724.7,154.2 724.7,154.0 724.7,153.9 724.7,153.7 724.7,153.5 729.8,153.4 729.8,153.2 729.8,153.0 729.8,152.8 729.8,152.7 729.8,152.5 734.8,152.3 734.8,152.2 734.8,152.0 734.8,151.8 734.8,151.7 734.8,151.5 739.8,151.3 739.8,151.1 739.8,150.7 739.8,150.4 739.8,150.0 739.8,149.7 744.9,149.3 744.9,149.0 744.9,148.7 744.9,148.3 744.9,148.0 744.9,147.6 749.9,147.3 749.9,146.9 749.9,146.6 749.9,146.3 749.9,146.1 749.9,146.0 755.0,145.8 755.0,145.7 755.0,145.5 755.0,145.4 755.0,145.2 755.0,145.1 760.0,144.9 760.0,144.8 760.0,144.6 760.0,144.5 760.0,144.3 760.0,144.1 765.1,144.0 765.1,143.8 765.1,143.7 765.1,143.5 765.1,143.4 765.1,143.2 770.1,143.1 770.1,142.9 770.1,142.8 770.1,142.6 770.1,142.5 770.1,142.3 775.2,142.2 775.2,142.0 775.2,141.9 775.2,141.7 775.2,141.6 775.2,141.4 780.2,141.3 780.2,141.2 780.2,141.1 780.2,141.0 780.2,140.9 780.2,140.8 785.3,140.7 785.3,140.6 785.3,140.4 785.3,140.3 785.3,140.2 785.3,140.1 790.3,140.0 790.3,139.9 790.3,139.8 790.3,139.7 790.3,139.6 790.3,139.5 795.4,139.4 795.4,139.3 795.4,139.2 795.4,139.1 795.4,139.0 795.4,138.9 800.4,138.8 800.4,138.7 800.4,138.6 800.4,138.5 800.4,138.4 800.4,138.3 805.5,138.2 805.5,138.1 805.5,137.9 805.5,137.8 805.5,137.7 805.5,137.6 810.5,137.5 810.5,137.4 810.5,137.3 810.5,137.2 810.5,137.1 810.5,137.0 815.6,136.9 815.6,136.8 815.6,136.7 815.6,136.6 815.6,136.5 815.6,136.4 820.6,136.3 820.6,136.2 820.6,136.1 820.6,136.0 820.6,135.9 820.6,135.8 825.7,135.6 825.7,135.5 825.7,135.4 825.7,135.3 825.7,135.2 825.7,135.1 830.8,135.0 830.8,134.9 830.8,134.8 830.8,134.7 830.8,134.6 830.8,134.5 835.8,134.4 835.8,134.4 835.8,134.4 835.8,134.4 835.8,134.4 835.8,134.4 840.8,134.4 840.8,134.4 840.8,134.4 840.8,134.4 840.8,134.4 840.8,134.4 845.9,134.4 845.9,134.4 845.9,134.4 845.9,134.4 845.9,134.4 845.9,134.4 850.9,134.4 850.9,134.4 850.9,134.4 850.9,134.4 850.9,134.4 850.9,134.4 856.0,134.4 856.0,134.4 856.0,134.4 856.0,134.4 856.0,134.4 856.0,134.4 861.0,134.4 861.0,134.4 861.0,134.4 861.0,134.4 861.0,134.4 861.0,134.4 866.1,134.4 866.1,134.4 866.1,134.4 866.1,134.4 866.1,134.4 866.1,134.4 871.1,134.4 871.1,134.4 871.1,134.4 871.1,134.4 871.1,134.4 871.1,134.4 876.2,134.4 876.2,134.4 876.2,134.4 876.2,134.4 876.2,134.4 876.2,134.4 881.2,134.4 881.2,134.4 881.2,134.4 881.2,134.4 881.2,134.4 881.2,134.4 886.3,134.4 886.3,134.4 886.3,134.4 886.3,134.4 886.3,134.4 886.3,134.4 891.3,134.4 891.3,134.4 891.3,134.4 891.3,134.4 891.3,134.4 891.3,134.4 896.4,134.4 896.4,134.4 896.4,134.4 896.4,134.4 896.4,134.4 896.4,134.4 901.4,134.4 901.4,134.4 901.4,134.4 901.4,134.4 901.4,134.4 901.4,134.4 906.5,134.4 906.5,134.4 906.5,134.4 906.5,134.4 906.5,134.4 906.5,134.4 911.5,134.4 911.5,134.4 911.5,134.4 911.5,134.4 911.5,134.4 911.5,134.4 916.6,134.4 916.6,134.4 916.6,134.4 916.6,134.4 916.6,134.5 916.6,134.6 921.6,134.7 921.6,134.9 921.6,135.0 921.6,135.1 921.6,135.2 921.6,135.3 926.7,135.4 926.7,135.5 926.7,135.6 926.7,135.7 926.7,135.8 926.7,135.9 931.8,136.0 931.8,136.1 931.8,136.2 931.8,136.3 931.8,136.4 931.8,136.6 936.8,136.7 936.8,136.8 936.8,136.9 936.8,137.0 936.8,137.1 936.8,137.2 941.8,137.3 941.8,137.2 941.8,137.2 941.8,137.1 941.8,137.1 941.8,137.0 946.9,136.9 946.9,136.9 946.9,136.8 946.9,136.8 946.9,136.7 946.9,136.6 951.9,136.6 951.9,136.5 951.9,136.4 951.9,136.4 951.9,136.3 951.9,136.3 957.0,136.2 957.0,136.1 957.0,136.1 957.0,136.0 957.0,136.0 957.0,135.9 962.0,135.8 962.0,135.8 962.0,135.7 962.0,135.6 962.0,135.6 962.0,135.5 967.1,135.5 967.1,135.4 967.1,135.3 967.1,135.3 967.1,135.2 967.1,135.2 972.1,135.1 972.1,135.0 972.1,135.0 972.1,134.9 972.1,134.8 972.1,134.8 977.2,134.7 977.2,134.7 977.2,134.6 977.2,134.5 977.2,134.5 977.2,134.4 982.2,134.3 982.2,134.2 982.2,134.0 982.2,133.9 982.2,133.7 982.2,133.6 987.3,133.4 987.3,133.3 987.3,133.2 987.3,133.0 987.3,132.9 987.3,132.7 992.3,132.6 992.3,132.5 992.3,132.3 992.3,132.2 992.3,132.0 992.3,131.9 997.4,131.7 997.4,131.6 997.4,131.5 997.4,131.3 997.4,131.2 997.4,131.0 1002.4,130.9 1002.4,130.8 1002.4,130.6 1002.4,130.5 1002.4,130.5 1002.4,130.6 1007.5,130.7 1007.5,130.8 1007.5,130.9 1007.5,131.0 1007.5,131.1 1007.5,131.2 1012.5,131.3 1012.5,131.4 1012.5,131.5 1012.5,131.6 1012.5,131.7 1012.5,131.8 1017.6,131.9 1017.6,132.0 1017.6,132.1 1017.6,132.3 1017.6,132.4 1017.6,132.4 1022.6,132.4 1022.6,132.4 1022.6,132.4 1022.6,132.4 1022.6,132.4 1022.6,132.4 1027.7,132.4 1027.7,132.4 1027.7,132.4 1027.7,132.4 1027.7,132.4 1027.7,132.4 1032.8,132.4 1032.8,132.4 1032.8,132.5 1032.8,132.5 1032.8,132.5 1032.8,132.5 1037.8,132.5 1037.8,132.5 1037.8,132.5 1037.8,132.5 1037.8,132.5 1037.8,132.5 1042.8,132.5 1042.8,132.5 1042.8,132.5 1042.8,132.5 1042.8,132.5 1042.8,132.5 1047.9,132.5 1047.9,132.5 1047.9,132.5 1047.9,132.5 1047.9,132.5 1047.9,132.5 1053.0,132.5 1053.0,132.5 1053.0,132.5 1053.0,132.5 1053.0,132.5 1053.0,132.5 1058.0,132.5 1058.0,132.6 1058.0,132.6 1058.0,132.6 1058.0,132.6 1058.0,132.6 1063.0,132.6 1063.0,132.6 1063.0,132.6 1063.0,132.6 1063.0,132.6 1063.0,132.6 1068.1,132.6 1068.1,132.6 1068.1,132.6 1068.1,132.6 1068.1,132.6 1068.1,132.6 1073.2,132.6 1073.2,132.6 1073.2,132.6 1073.2,132.6 1073.2,132.6 1073.2,132.6 1078.2,132.6 1078.2,132.6 1078.2,132.6 1078.2,132.6 1078.2,132.6 1078.2,132.6 1083.2,132.7 1083.2,132.7 1083.2,132.7 1083.2,132.7 1083.2,132.7 1083.2,132.7 1088.3,132.7 1088.3,132.7 1088.3,132.7 1088.3,132.7 1088.3,132.7 1088.3,132.7 1093.3,132.7 1093.3,132.7 1093.3,132.7 1093.3,132.7 1093.3,132.7 1093.3,132.7 1098.4,132.7 1098.4,132.7 1098.4,132.7 1098.4,132.7 1098.4,132.7 1098.4,132.7 1103.5,132.7 1103.5,132.7 1103.5,132.7 1103.5,132.7 1103.5,132.7 1103.5,132.7 1108.5,132.8 1108.5,132.8 1108.5,132.8 1108.5,132.8 1108.5,132.8 1108.5,132.8 1113.5,132.8 1113.5,132.8 1113.5,132.8 1113.5,132.8 1113.5,132.8 1113.5,132.8 1118.6,132.8 1118.6,132.8 1118.6,132.8 1118.6,132.9 1118.6,132.9 1118.6,133.0 1123.7,133.0 1123.7,133.1 1123.7,133.2 1123.7,133.2 1123.7,133.3 1123.7,133.3 1128.7,133.4 1128.7,133.5 1128.7,133.5 1128.7,133.6 1128.7,133.6 1128.7,133.7 1133.8,133.8 1133.8,133.8 1133.8,133.9 1133.8,134.0 1133.8,134.0 1133.8,134.1 1138.8,134.1 1138.8,134.2 1138.8,134.3 1138.8,134.3 1138.8,134.4 1138.8,134.4 1143.8,134.5 1143.8,134.6 1143.8,134.6 1143.8,134.7 1143.8,134.8 1143.8,134.8 1148.9,134.9 1148.9,134.9 1148.9,135.0 1148.9,135.1 1148.9,135.1 1148.9,135.2 1154.0,135.2 1154.0,135.3 1154.0,135.4 1154.0,135.4 1154.0,135.3 1154.0,135.3 1159.0,135.2 1159.0,135.1 1159.0,135.1 1159.0,135.0 1159.0,135.0 1159.0,134.9 1164.0,134.9 1164.0,134.8 1164.0,134.7 1164.0,134.7 1164.0,134.6 1164.0,134.6 1169.1,134.5 1169.1,134.4 1169.1,134.4 1169.1,134.3 1169.1,134.3 1169.1,134.2 1174.2,134.2 1174.2,134.1 1174.2,134.0 1174.2,134.0 1174.2,133.9 1174.2,133.9 1179.2,133.8 1179.2,133.8 1179.2,133.7 1179.2,133.6 1179.2,133.6 1179.2,133.5 1184.2,133.5 1184.2,133.4 1184.2,133.3 1184.2,133.3 1184.2,133.2 1184.2,133.2 1189.3,133.1 1189.3,133.1 1189.3,133.0 1189.3,132.9 1189.3,132.9 1189.3,132.8 1194.4,132.8 1194.4,132.7 1194.4,132.7 1194.4,132.6 1194.4,132.5 1194.4,132.5 1199.4,132.4 1199.4,132.4 1199.4,132.4 1199.4,132.4 1199.4,132.5 1199.4,132.5 1204.5,132.5 1204.5,132.5 1204.5,132.5 1204.5,132.5 1204.5,132.5 1204.5,132.6 1209.5,132.6 1209.5,132.6 1209.5,132.6 1209.5,132.6 1209.5,132.6 1209.5,132.6 1214.5,132.6 1214.5,132.7 1214.5,132.7 1214.5,132.7 1214.5,132.7 1214.5,132.7 1219.6,132.7 1219.6,132.7 1219.6,132.8 1219.6,132.8 1219.6,132.8 1219.6,132.8 1224.7,132.8 1224.7,132.8 1224.7,132.8 1224.7,132.9 1224.7,132.9 1224.7,132.9 1229.7,132.9 1229.7,132.9 1229.7,132.9 1229.7,132.9 1229.7,133.0 1229.7,133.0 1234.8,133.0 1234.8,133.0 1234.8,133.0 1234.8,133.0 1234.8,133.0 1234.8,133.1 1239.8,133.1 1239.8,133.1 1239.8,133.1 1239.8,133.1 1239.8,133.1 1239.8,133.1 1244.9,133.2 1244.9,133.2 1244.9,133.2 1244.9,133.2 1244.9,133.2 1244.9,133.2 1249.9,133.2 1249.9,133.3 1249.9,133.3 1249.9,133.3 1249.9,133.3 1249.9,133.3 1255.0,133.3 1255.0,133.3 1255.0,133.4 1255.0,133.4 1255.0,133.4 1255.0,133.4 1260.0,133.5 1260.0,133.6 1260.0,133.6 1260.0,133.7 1260.0,133.8 1260.0,133.8 1265.0,133.9 1265.0,134.0 1265.0,134.1 1265.0,134.1 1265.0,134.2 1265.0,134.3 1270.1,134.4 1270.1,134.4 1270.1,134.5 1270.1,134.6 1270.1,134.7 1270.1,134.7 1275.2,134.8 1275.2,134.9 1275.2,135.0 1275.2,135.0 1275.2,135.1 1275.2,135.2 1280.2,135.3 1280.2,135.3 1280.2,135.4 1280.2,135.5 1280.2,135.6 1280.2,135.8 1285.2,135.9 1285.2,136.0 1285.2,136.1 1285.2,136.3 1285.2,136.4 1285.2,136.5 1290.3,136.6 1290.3,136.7 1290.3,136.9 1290.3,137.0 1290.3,137.1 1290.3,137.2 1295.4,137.4 1295.4,137.5 1295.4,137.6 1295.4,137.7 1295.4,137.9 1295.4,138.0 1300.4,138.1 1300.4,138.2 1300.4,138.5 1300.4,138.9 1300.4,139.4 1300.4,139.9 1305.5,140.4 1305.5,140.9 1305.5,141.3 1305.5,141.8 1305.5,142.3 1305.5,142.8 1310.5,143.3 1310.5,143.7 1310.5,144.2 1310.5,144.7 1310.5,145.2 1310.5,145.7 1315.5,146.1 1315.5,146.6 1315.5,147.1 1315.5,147.9 1315.5,148.9 1315.5,149.9 1320.6,150.9 1320.6,151.9 1320.6,152.9 1320.6,153.9 1320.6,154.9 1320.6,156.0 1325.7,157.0 1325.7,158.0 1325.7,159.0 1325.7,160.7 1325.7,162.6 1325.7,164.5 1330.7,166.4 1330.7,168.3 1330.7,170.2 1330.7,172.1 1330.7,174.0 1330.7,176.1 1335.8,178.4 1335.8,180.6 1335.8,182.9 1335.8,185.2 1335.8,187.4 1335.8,189.7 1340.8,191.6 1340.8,193.0 1340.8,194.4 1340.8,195.9 1340.8,197.3 1340.8,198.7 1345.9,200.2 1345.9,201.6 1345.9,202.9 1345.9,203.3 1345.9,203.7 1345.9,204.1 1350.9,204.5 1350.9,204.9 1350.9,205.3 1350.9,205.7 1350.9,206.1 1350.9,206.5 1356.0,206.9 1356.0,207.3 1356.0,207.2 1356.0,206.5 1356.0,205.7 1356.0,205.0 1361.0,204.3 1361.0,203.5 1361.0,202.8 1361.0,202.0 1361.0,201.3 1361.0,200.6 1366.0,199.8 1366.0,199.1 1366.0,195.9 1366.0,191.3 1366.0,186.7 1366.0,182.7 1371.1,181.0 1371.1,179.3 1371.1,177.6 1371.1,176.0 1371.1,174.3 1371.1,172.8 1376.2,172.0 1376.2,171.1 1376.2,170.3 1376.2,169.5 1376.2,168.6 1376.2,167.8 1381.2,167.0 1381.2,166.1 1381.2,165.3 1381.2,165.3 1381.2,165.6 1381.2,165.9 1386.2,166.2 1386.2,166.5 1386.2,166.9 1386.2,167.2 1386.2,167.5 1386.2,167.8 1391.3,168.1 1391.3,168.8 1391.3,169.4 1391.3,170.0 1391.3,170.6 1391.3,171.2 1396.4,171.9 1396.4,172.5 1396.4,172.9 1396.4,172.1 1396.4,171.4 1396.4,170.7 1401.4,169.9 1401.4,169.2 1401.4,168.5 1401.4,167.7 1401.4,167.0 1401.4,166.2 1406.5,165.5 1406.5,164.6 1406.5,163.6 1406.5,162.5 1406.5,161.5 1406.5,160.4 1411.5,159.3 1411.5,158.3 1411.5,157.2 1411.5,156.2 1411.5,155.2 1411.5,154.8 1416.5,154.3 1416.5,153.9 1416.5,153.5 1416.5,153.1 1416.5,152.7 1416.5,152.2 1421.6,151.8 1421.6,151.4 1421.6,151.0 1421.6,150.6 1421.6,150.2 1421.6,149.7 1426.7,149.3 1426.7,148.9 1426.7,148.5 1426.7,148.1 1426.7,147.6 1426.7,147.3 1431.7,147.6 1431.7,147.8 1431.7,148.1 1431.7,148.3 1431.7,148.6 1431.7,148.8 1436.8,149.1 1436.8,149.3 1436.8,149.6 1436.8,149.8 1436.8,150.1 1436.8,150.5 1441.8,151.3 1441.8,152.1 1441.8,152.8 1441.8,153.6 1441.8,154.3 1441.8,155.1 1446.9,155.9 1446.9,156.6 1446.9,157.4 1446.9,158.2 1446.9,158.9 1446.9,159.2 1451.9,159.2 1451.9,159.2 1451.9,159.2 1451.9,159.2 1451.9,159.2 1451.9,159.2 1457.0,159.2 1457.0,159.2 1457.0,159.2 1457.0,159.2 1457.0,159.2 1457.0,159.2 1462.0,159.2 1462.0,159.2 1462.0,159.2 1462.0,159.2 1462.0,159.2 1462.0,159.2 1467.0,159.2 1467.0,159.2 1467.0,159.2 1467.0,159.2 1467.0,159.2 1467.0,159.3 1472.1,159.4 1472.1,159.5 1472.1,159.6 1472.1,159.7 1472.1,159.8 1472.1,159.8 1477.2,159.9 1477.2,160.0 1477.2,160.1 1477.2,160.2 1477.2,160.3 1477.2,160.4 1482.2,160.5 1482.2,160.6 1482.2,160.6 1482.2,160.7 1482.2,160.8 1482.2,160.9 1487.2,161.0 1487.2,161.1 1487.2,160.0 1487.2,158.8 1487.2,157.7 1487.2,156.5 1492.3,155.4 1492.3,154.2 1492.3,153.1 1492.3,151.9 1492.3,150.8 1492.3,150.2 1497.4,150.2 1497.4,150.2 1497.4,150.2 1497.4,150.2 1497.4,150.2 1497.4,150.2 1502.4,150.2 1502.4,150.2 1502.4,150.2 1502.4,150.2 1502.4,150.2 1502.4,150.2 1507.5,150.2 1507.5,150.2 1507.5,150.2 1507.5,150.2 1507.5,150.2 1507.5,150.2 1512.5,150.2 1512.5,150.1 1512.5,150.1 1512.5,150.0 1512.5,150.0 1512.5,149.9 1517.5,149.8 1517.5,149.8 1517.5,149.7 1517.5,149.7 1517.5,149.6 1517.5,149.6 1522.6,149.5 1522.6,149.5 1522.6,149.4 1522.6,149.4 1522.6,149.3 1522.6,149.3 1527.7,149.2 1527.7,149.7 1527.7,150.2 1527.7,150.8 1527.7,151.4 1527.7,151.9 1532.7,152.5 1532.7,153.1 1532.7,153.6 1532.7,154.2 1532.7,154.8 1532.7,155.3 1537.8,155.9 1537.8,156.5 1537.8,157.0 1537.8,157.4 1537.8,157.8 1537.8,158.1 1542.8,158.4 1542.8,158.7 1542.8,159.1 1542.8,159.4 1542.8,159.7 1542.8,160.0 1547.9,160.4 1547.9,160.7 1547.9,161.0 1547.9,160.6 1547.9,159.9 1547.9,159.2 1552.9,158.5 1552.9,157.9 1552.9,157.2 1552.9,156.5 1552.9,155.9 1552.9,155.2 1558.0,154.5 1558.0,153.8 1558.0,153.2 1558.0,152.8 1558.0,152.5 1558.0,152.1 1563.0,151.8 1563.0,151.4 1563.0,151.1 1563.0,150.7 1563.0,150.4 1563.0,150.0 1568.0,149.7 1568.0,149.3 1568.0,148.9 1568.0,148.6 1568.0,148.2 1568.0,148.4 1573.1,148.7 1573.1,149.0 1573.1,149.2 1573.1,149.5 1573.1,149.8 1573.1,150.0 1578.2,150.3 1578.2,150.6 1578.2,150.8 1578.2,151.1 1578.2,151.4 1578.2,151.6 1583.2,151.9 1583.2,152.2 1583.2,152.4 1583.2,152.7 1583.2,153.0 1583.2,153.3 1588.2,154.0 1588.2,154.7 1588.2,155.4 1588.2,156.1 1588.2,156.8 1588.2,157.5 1593.3,158.2 1593.3,158.9 1593.3,159.6 1593.3,160.3 1593.3,161.0 1593.3,161.7 1598.4,162.4 1598.4,163.1 1598.4,163.2 1598.4,163.4 1598.4,163.5 1598.4,163.6 1603.4,163.8 1603.4,163.9 1603.4,164.0 1603.4,164.1 1603.4,164.3 1603.4,164.4 1608.5,164.5 1608.5,164.7 1608.5,164.8 1608.5,164.9 1608.5,165.1 1608.5,166.2 1613.5,167.9 1613.5,169.6 1613.5,171.3 1613.5,173.0 1613.5,174.7 1613.5,176.4 1618.5,177.0 1618.5,176.9 1618.5,176.8 1618.5,176.8 1618.5,176.7 1618.5,176.7 1623.6,176.6 1623.6,176.5 1623.6,176.5 1623.6,176.4 1623.6,176.4 1623.6,176.3 1628.7,176.2 1628.7,176.2 1628.7,176.1 1628.7,176.0 1628.7,176.1 1628.7,176.4 1633.7,176.7 1633.7,177.0 1633.7,177.3 1633.7,177.6 1633.7,177.9 1633.7,178.1 1638.8,178.4 1638.8,178.7 1638.8,179.0 1638.8,179.3 1638.8,179.6 1638.8,179.9 1643.8,180.2 1643.8,180.5 1643.8,180.8 1643.8,181.1 1643.8,181.4 1643.8,181.7 1648.9,182.0 1648.9,182.3 1648.9,182.6 1648.9,182.9 1648.9,182.8 1648.9,182.5 1653.9,182.3 1653.9,182.0 1653.9,181.7 1653.9,181.4 1653.9,181.1 1653.9,180.8 1659.0,180.6 1659.0,180.3 1659.0,180.0 1659.0,179.7 1659.0,179.4 1659.0,179.1 1664.0,177.9 1664.0,175.7 1664.0,173.4 1664.0,171.1 1664.0,168.9 1664.0,166.6 1669.0,164.3 1669.0,163.2 1669.0,163.3 1669.0,163.4 1669.0,163.6 1669.0,163.7 1674.1,163.9 1674.1,164.0 1674.1,164.2 1674.1,164.3 1674.1,164.4 1674.1,164.6 1679.2,164.7 1679.2,164.9 1679.2,165.0 1679.2,165.0 1679.2,164.7 1679.2,164.4 1684.2,164.1 1684.2,163.8 1684.2,163.4 1684.2,163.1 1684.2,162.8 1684.2,162.5 1689.2,162.2 1689.2,161.9 1689.2,161.6 1689.2,161.3 1689.2,160.9 1689.2,160.6 1694.3,160.3 1694.3,160.0 1694.3,159.7 1694.3,159.4 1694.3,158.7 1694.3,157.4 1699.4,156.1 1699.4,154.9 1699.4,153.6 1699.4,152.3 1699.4,151.0 1699.4,149.8 1704.4,148.5 1704.4,147.3 1704.4,146.4 1704.4,145.6 1704.4,144.7 1704.4,143.9 1709.5,143.0 1709.5,142.2 1709.5,141.3 1709.5,140.5 1709.5,139.6 1709.5,138.8 1714.5,137.9 1714.5,137.3 1714.5,137.1 1714.5,136.9 1714.5,136.8 1714.5,136.6 1719.5,136.5 1719.5,136.3 1719.5,136.1 1719.5,136.0 1719.5,135.8 1719.5,135.7 1724.6,135.5 1724.6,135.7 1724.6,136.5 1724.6,137.2 1724.6,138.0 1724.6,138.7 1729.7,139.5 1729.7,140.2 1729.7,141.0 1729.7,141.8 1729.7,142.5 1729.7,143.3 1734.7,144.0 1734.7,144.3 1734.7,144.3 1734.7,144.3 1734.7,144.3 1734.7,144.3 1739.8,144.3 1739.8,144.3 1739.8,144.3 1739.8,144.3 1739.8,144.3 1739.8,144.3 1744.8,144.3 1744.8,143.8 1744.8,143.1 1744.8,142.5 1744.8,141.9 1744.8,141.3 1749.9,140.7 1749.9,140.0 1749.9,139.4 1749.9,138.8 1749.9,138.2 1749.9,137.6 1754.9,136.9 1754.9,136.3 1754.9,135.7 1754.9,135.1 1754.9,134.5 1754.9,133.8 1760.0,133.2 1760.0,132.6 1760.0,132.6 1760.0,132.6 1760.0,132.6 1760.0,132.6 1765.0,132.5 1765.0,132.5 1765.0,132.5 1765.0,132.5 1765.0,132.5 1765.0,132.5 1770.0,132.5 1770.0,132.5 1770.0,132.5 1770.0,132.5 1770.0,132.4 1770.0,132.4 1775.1,132.4 1775.1,132.4 1775.1,132.4 1775.1,132.5 1775.1,132.6 1775.1,132.7 1780.2,132.8 1780.2,132.9 1780.2,133.0 1780.2,133.1 1780.2,133.2 1780.2,133.3 1785.2,133.4 1785.2,133.5 1785.2,133.6 1785.2,133.7 1785.2,133.8 1785.2,133.9 1790.2,134.0 1790.2,134.2 1790.2,134.4 1790.2,134.6 1790.2,134.9 1790.2,135.1 1795.3,135.3 1795.3,135.6 1795.3,135.8 1795.3,136.0 1795.3,136.3 1795.3,136.5 1800.4,136.7 1800.4,137.0 1800.4,137.2 1800.4,137.4 1800.4,137.7 1800.4,137.9 1805.4,138.1 1805.4,138.4 1805.4,138.6 1805.4,138.8 1805.4,139.1 1805.4,139.3 1810.5,139.6 1810.5,139.9 1810.5,140.3 1810.5,140.6 1810.5,141.0 1810.5,141.3 1815.5,141.7 1815.5,142.0 1815.5,142.4 1815.5,142.7 1815.5,143.1 1815.5,143.4 1820.5,143.8 1820.5,144.1 1820.5,144.5 1820.5,144.8 1820.5,145.2 1820.5,145.3 1825.6,145.4 1825.6,145.4 1825.6,145.5 1825.6,145.5 1825.6,145.6 1825.6,145.7 1830.7,145.7 1830.7,145.8 1830.7,145.8 1830.7,145.9 1830.7,145.9 1830.7,146.0 1835.7,146.0 1835.7,146.1 1835.7,146.1 1835.7,146.2 1835.7,146.2 1835.7,146.3 1840.8,146.7 1840.8,147.1 1840.8,147.6 1840.8,148.1 1840.8,148.6 1840.8,149.0 1845.8,149.5 1845.8,150.0 1845.8,150.5 1845.8,150.9 1845.8,151.4 1845.8,151.9 1850.9,152.4 1850.9,152.8 1850.9,153.3 1850.9,153.8 1850.9,154.2 1850.9,154.7 1855.9,155.2 1855.9,155.2 1855.9,155.2 1855.9,155.2 1855.9,155.2 1855.9,155.2 1861.0,155.2 1861.0,155.2 1861.0,155.2 1861.0,155.2 1861.0,155.2 1861.0,155.2 1866.0,155.2 1866.0,155.2 1866.0,155.2 1866.0,155.2 1866.0,155.2 1866.0,155.2 1871.0,155.2 1871.0,155.2 1871.0,155.2 1871.0,155.2 1871.0,155.2 1871.0,155.2 1876.1,155.2 1876.1,155.2 1876.1,155.2 1876.1,155.2 1876.1,155.2 1876.1,155.2 1881.2,155.2 1881.2,155.2 1881.2,155.2 1881.2,155.2 1881.2,155.2 1881.2,155.2 1886.2,155.2 1886.2,155.2 1886.2,155.2 1886.2,155.2 1886.2,155.2 1886.2,155.2 1891.2,155.2 1891.2,155.2 1891.2,155.2 1891.2,155.2 1891.2,155.2 1891.2,155.2 1896.3,155.2 1896.3,155.2 1896.3,155.5 1896.3,156.3 1896.3,157.1 1896.3,157.9 1901.4,158.6 1901.4,159.4 1901.4,160.2 1901.4,160.9 1901.4,161.7 1901.4,162.5 1906.4,163.3 1906.4,164.0 1906.4,164.8 1906.4,165.6 1906.4,166.1 1906.4,165.9 1911.5,165.8 1911.5,165.6 1911.5,165.5 1911.5,165.4 1911.5,165.2 1911.5,165.1 1916.5,165.0 1916.5,164.8 1916.5,164.7 1916.5,164.6 1916.5,164.3 1916.5,164.1 1921.5,163.8 1921.5,163.5 1921.5,163.3 1921.5,163.0 1921.5,162.7 1921.5,162.4 1926.6,162.2 1926.6,161.8 1926.6,161.4 1926.6,161.0 1926.6,160.6 1926.6,160.2 1931.7,159.8 1931.7,159.4 1931.7,159.0 1931.7,158.6 1931.7,158.2 1931.7,157.9 1936.7,157.6 1936.7,157.2 1936.7,157.0 1936.7,157.0 1936.7,157.0 1936.7,157.0 1941.8,157.0 1941.8,157.0 1941.8,157.0 1941.8,157.0 1941.8,157.0 1941.8,157.0" stroke="#1A6FDF" stroke-width="13.8"/>
<polyline points="154.1,382.6 154.1,382.6 154.1,382.6 154.1,382.6 154.1,382.6 154.1,382.6 159.1,382.6 159.1,382.6 159.1,382.6 159.1,382.6 159.1,382.6 159.1,382.6 164.2,382.6 164.2,382.6 164.2,382.6 164.2,382.6 164.2,382.5 164.2,382.5 169.2,382.5 169.2,382.4 169.2,382.4 169.2,382.4 169.2,382.3 169.2,382.3 174.3,382.3 174.3,382.2 174.3,382.2 174.3,382.2 174.3,382.2 174.3,382.1 179.3,382.1 179.3,382.1 179.3,382.0 179.3,382.0 179.3,382.0 179.3,381.9 184.4,381.9 184.4,381.9 184.4,381.8 184.4,381.8 184.4,381.8 184.4,381.7 189.4,381.7 189.4,381.7 189.4,381.6 189.4,381.6 189.4,381.6 189.4,381.7 194.5,381.7 194.5,381.7 194.5,381.7 194.5,381.8 194.5,381.8 194.5,381.8 199.5,381.9 199.5,381.9 199.5,381.9 199.5,381.9 199.5,382.0 199.5,382.0 204.6,382.0 204.6,382.1 204.6,382.1 204.6,382.1 204.6,382.1 204.6,382.2 209.6,382.2 209.6,382.2 209.6,382.3 209.6,382.3 209.6,382.3 209.6,382.3 214.7,382.4 214.7,382.4 214.7,382.4 214.7,382.5 214.7,382.5 214.7,382.5 219.8,382.5 219.8,382.6 219.8,382.6 219.8,382.6 219.8,382.7 219.8,382.7 224.8,382.8 224.8,382.9 224.8,382.9 224.8,383.0 224.8,383.0 224.8,383.1 229.8,383.1 229.8,383.2 229.8,383.2 229.8,383.3 229.8,383.3 229.8,383.4 234.9,383.4 234.9,383.5 234.9,383.3 234.9,383.0 234.9,382.6 234.9,382.3 239.9,382.0 239.9,381.6 239.9,381.3 239.9,381.0 239.9,380.6 239.9,380.3 245.0,380.0 245.0,380.1 245.0,380.6 245.0,381.1 245.0,381.6 245.0,382.1 250.0,382.6 250.0,383.1 250.0,383.6 250.0,384.1 250.0,384.6 250.0,385.0 255.1,385.1 255.1,385.2 255.1,385.4 255.1,385.5 255.1,385.6 255.1,385.7 260.1,385.8 260.1,385.9 260.1,386.0 260.1,386.2 260.1,386.3 260.1,386.4 265.2,386.5 265.2,386.6 265.2,386.7 265.2,386.8 265.2,386.9 265.2,387.0 270.2,387.1 270.2,387.2 270.2,387.3 270.2,387.5 270.2,387.6 270.2,387.7 275.3,387.8 275.3,387.9 275.3,388.0 275.3,388.1 275.3,388.2 275.3,388.3 280.3,388.4 280.3,388.5 280.3,388.0 280.3,387.6 280.3,387.2 280.3,386.8 285.4,386.4 285.4,385.9 285.4,385.0 285.4,384.1 285.4,383.3 285.4,382.4 290.4,381.6 290.4,380.7 290.4,380.2 290.4,381.1 290.4,382.1 290.4,383.1 295.5,384.1 295.5,385.1 295.5,386.1 295.5,387.1 295.5,388.1 295.5,389.1 300.5,390.1 300.5,390.6 300.5,390.7 300.5,390.8 300.5,390.9 300.5,391.0 305.6,391.1 305.6,391.2 305.6,391.3 305.6,391.4 305.6,391.5 305.6,391.6 310.6,391.7 310.6,391.8 310.6,391.9 310.6,392.0 310.6,392.1 310.6,392.3 315.7,392.4 315.7,392.5 315.7,392.7 315.7,393.0 315.7,393.3 315.7,393.6 320.8,393.9 320.8,394.2 320.8,394.5 320.8,394.8 320.8,395.1 320.8,395.4 325.8,395.7 325.8,396.0 325.8,396.3 325.8,396.6 325.8,396.9 325.8,397.2 330.9,397.5 330.9,397.8 330.9,398.2 330.9,398.6 330.9,398.9 330.9,399.3 335.9,399.7 335.9,400.0 335.9,400.4 335.9,400.8 335.9,401.1 335.9,401.5 340.9,401.9 340.9,402.2 340.9,402.6 340.9,403.0 340.9,403.3 340.9,404.9 346.0,406.9 346.0,408.8 346.0,410.8 346.0,412.7 346.0,414.7 346.0,416.6 351.0,418.1 351.0,419.4 351.0,420.7 351.0,421.9 351.0,423.2 351.0,424.5 356.1,425.7 356.1,427.0 356.1,428.3 356.1,429.6 356.1,431.3 356.1,432.9 361.1,434.6 361.1,436.3 361.1,437.9 361.1,439.6 361.1,441.2 361.1,442.4 366.2,443.7 366.2,445.0 366.2,446.3 366.2,447.6 366.2,448.8 366.2,450.1 371.2,451.4 371.2,452.7 371.2,453.9 371.2,455.2 371.2,456.5 371.2,457.8 376.3,459.0 376.3,460.3 376.3,461.6 376.3,462.8 376.3,464.1 376.3,465.4 381.4,466.6 381.4,467.9 381.4,469.1 381.4,470.4 381.4,471.6 381.4,472.9 386.4,474.1 386.4,475.4 386.4,476.6 386.4,478.5 386.4,480.5 386.4,482.4 391.4,484.4 391.4,486.4 391.4,488.3 391.4,490.3 391.4,491.6 391.4,492.8 396.5,494.0 396.5,495.1 396.5,496.3 396.5,497.5 396.5,498.7 396.5,499.9 401.5,501.1 401.5,502.2 401.5,503.4 401.5,504.6 401.5,505.6 401.5,506.6 406.6,507.6 406.6,508.6 406.6,509.6 406.6,510.6 406.6,511.6 406.6,512.6 411.6,513.6 411.6,514.6 411.6,515.6 411.6,516.6 411.6,517.4 411.6,518.3 416.7,519.1 416.7,519.9 416.7,520.8 416.7,521.6 416.7,522.5 416.7,523.3 421.8,524.1 421.8,525.0 421.8,525.8 421.8,526.7 421.8,527.5 421.8,528.3 426.8,529.0 426.8,529.7 426.8,530.4 426.8,531.1 426.8,531.8 426.8,532.5 431.8,533.2 431.8,533.9 431.8,534.6 431.8,535.3 431.8,536.0 431.8,536.7 436.9,537.4 436.9,538.1 436.9,538.5 436.9,538.9 436.9,539.2 436.9,539.5 441.9,539.9 441.9,540.2 441.9,540.6 441.9,540.9 441.9,541.2 441.9,541.6 447.0,541.9 447.0,542.3 447.0,542.6 447.0,542.9 447.0,543.3 447.0,543.6 452.0,544.0 452.0,544.3 452.0,544.6 452.0,545.0 452.0,545.3 452.0,545.7 457.1,546.0 457.1,546.1 457.1,545.7 457.1,545.4 457.1,545.0 457.1,544.7 462.1,544.4 462.1,544.0 462.1,543.7 462.1,543.3 462.1,543.0 462.1,542.7 467.2,542.3 467.2,541.8 467.2,541.1 467.2,540.4 467.2,539.7 467.2,539.0 472.2,538.3 472.2,537.6 472.2,536.9 472.2,536.2 472.2,535.5 472.2,534.8 477.3,534.1 477.3,533.4 477.3,532.7 477.3,531.9 477.3,531.2 477.3,530.5 482.3,529.7 482.3,529.0 482.3,528.3 482.3,527.5 482.3,526.8 482.3,526.0 487.4,525.3 487.4,524.6 487.4,523.8 487.4,523.1 487.4,522.4 487.4,521.6 492.4,520.9 492.4,520.2 492.4,519.4 492.4,518.7 492.4,518.0 492.4,517.4 497.5,516.8 497.5,516.2 497.5,515.6 497.5,515.0 497.5,514.4 497.5,513.8 502.5,513.2 502.5,512.6 502.5,512.0 502.5,511.4 502.5,510.8 502.5,510.2 507.6,509.6 507.6,509.0 507.6,508.4 507.6,508.1 507.6,507.8 507.6,507.5 512.6,507.3 512.6,507.0 512.6,506.7 512.6,506.4 512.6,506.1 512.6,505.8 517.7,505.5 517.7,505.2 517.7,504.9 517.7,504.6 517.7,504.3 517.7,504.0 522.8,503.7 522.8,503.4 522.8,503.1 522.8,502.8 522.8,502.5 522.8,502.2 527.8,501.9 527.8,501.6 527.8,501.4 527.8,501.3 527.8,501.2 527.8,501.1 532.8,500.9 532.8,500.8 532.8,500.7 532.8,500.6 532.8,500.4 532.8,500.3 537.9,500.2 537.9,500.1 537.9,500.0 537.9,499.8 537.9,499.7 537.9,499.6 543.0,499.5 543.0,499.3 543.0,499.2 543.0,499.1 543.0,499.0 543.0,498.8 548.0,498.7 548.0,498.6 548.0,498.3 548.0,498.1 548.0,497.8 548.0,497.6 553.0,497.3 553.0,497.0 553.0,496.8 553.0,496.5 553.0,496.3 553.0,496.0 558.1,495.8 558.1,495.5 558.1,495.2 558.1,495.0 558.1,494.7 558.1,494.5 563.1,494.3 563.1,494.0 563.1,493.8 563.1,493.6 563.1,493.4 563.1,493.2 568.2,492.9 568.2,492.7 568.2,492.5 568.2,492.3 568.2,492.0 568.2,491.8 573.2,491.6 573.2,491.4 573.2,491.1 573.2,490.9 573.2,490.7 573.2,490.5 578.3,490.3 578.3,490.0 578.3,489.8 578.3,489.6 578.3,489.4 578.3,489.1 583.3,488.9 583.3,488.7 583.3,488.5 583.3,488.2 583.3,488.0 583.3,487.8 588.4,487.6 588.4,487.4 588.4,487.1 588.4,486.9 588.4,486.7 588.4,486.4 593.5,486.2 593.5,485.9 593.5,485.7 593.5,485.4 593.5,485.2 593.5,484.9 598.5,484.6 598.5,484.4 598.5,484.1 598.5,483.9 598.5,483.6 598.5,483.4 603.5,483.1 603.5,482.9 603.5,482.6 603.5,482.3 603.5,482.1 603.5,481.8 608.6,481.6 608.6,481.3 608.6,481.1 608.6,480.8 608.6,480.5 608.6,480.1 613.6,479.7 613.6,479.4 613.6,479.0 613.6,478.6 613.6,478.2 613.6,477.8 618.7,477.5 618.7,477.1 618.7,476.7 618.7,476.3 618.7,476.0 618.7,475.6 623.8,475.2 623.8,474.8 623.8,474.4 623.8,474.1 623.8,473.7 623.8,473.3 628.8,472.9 628.8,472.5 628.8,472.2 628.8,471.8 628.8,471.5 628.8,471.3 633.8,471.0 633.8,470.8 633.8,470.5 633.8,470.3 633.8,470.0 633.8,469.8 638.9,469.5 638.9,469.2 638.9,469.0 638.9,468.7 638.9,468.5 638.9,468.2 644.0,468.0 644.0,467.7 644.0,467.5 644.0,467.2 644.0,466.9 644.0,466.7 649.0,466.4 649.0,466.2 649.0,465.9 649.0,465.7 649.0,465.6 649.0,465.4 654.0,465.3 654.0,465.1 654.0,465.0 654.0,464.8 654.0,464.6 654.0,464.5 659.1,464.3 659.1,464.2 659.1,464.0 659.1,463.9 659.1,463.7 659.1,463.6 664.1,463.4 664.1,463.3 664.1,463.1 664.1,462.9 664.1,462.8 664.1,462.6 669.2,462.5 669.2,462.5 669.2,462.6 669.2,462.6 669.2,462.6 669.2,462.7 674.2,462.7 674.2,462.7 674.2,462.8 674.2,462.8 674.2,462.8 674.2,462.8 679.3,462.9 679.3,462.9 679.3,462.9 679.3,463.0 679.3,463.0 679.3,463.0 684.3,463.1 684.3,463.1 684.3,463.1 684.3,463.2 684.3,463.2 684.3,463.2 689.4,463.2 689.4,463.3 689.4,463.3 689.4,463.3 689.4,463.4 689.4,463.4 694.5,463.4 694.5,463.5 694.5,463.5 694.5,463.5 694.5,463.5 694.5,463.6 699.5,463.6 699.5,463.6 699.5,463.6 699.5,463.7 699.5,463.7 699.5,463.7 704.5,463.8 704.5,463.8 704.5,463.8 704.5,463.8 704.5,463.9 704.5,463.9 709.6,463.4 709.6,462.9 709.6,462.4 709.6,461.9 709.6,461.4 709.6,460.9 714.6,460.4 714.6,459.9 714.6,459.4 714.6,458.9 714.6,458.4 714.6,457.9 719.7,457.4 719.7,456.9 719.7,456.8 719.7,456.7 719.7,456.5 719.7,456.4 724.8,456.3 724.8,456.2 724.8,456.0 724.8,455.9 724.8,455.8 724.8,455.7 729.8,455.6 729.8,455.4 729.8,455.3 729.8,455.2 729.8,455.1 729.8,454.9 734.8,454.8 734.8,454.7 734.8,454.6 734.8,454.4 734.8,454.3 734.8,454.2 739.9,454.1 739.9,453.9 739.9,453.6 739.9,453.3 739.9,453.0 739.9,452.7 745.0,452.4 745.0,452.1 745.0,451.8 745.0,451.5 745.0,451.2 745.0,450.9 750.0,450.6 750.0,450.3 750.0,450.0 750.0,449.7 750.0,449.4 750.0,449.1 755.0,448.8 755.0,448.5 755.0,448.2 755.0,447.9 755.0,447.6 755.0,447.3 760.1,447.0 760.1,446.9 760.1,446.8 760.1,446.8 760.1,446.7 760.1,446.6 765.1,446.5 765.1,446.4 765.1,446.3 765.1,446.2 765.1,446.2 765.1,446.1 770.2,446.0 770.2,445.9 770.2,445.8 770.2,445.7 770.2,445.7 770.2,445.6 775.2,445.5 775.2,445.4 775.2,445.3 775.2,445.2 775.2,445.1 775.2,445.1 780.3,445.0 780.3,444.8 780.3,444.6 780.3,444.5 780.3,444.3 780.3,444.1 785.3,443.9 785.3,443.8 785.3,443.6 785.3,443.4 785.3,443.3 785.3,443.1 790.4,442.9 790.4,442.8 790.4,442.6 790.4,442.4 790.4,442.2 790.4,442.1 795.5,441.9 795.5,441.7 795.5,441.6 795.5,441.4 795.5,441.2 795.5,441.0 800.5,440.9 800.5,440.7 800.5,440.6 800.5,440.4 800.5,440.2 800.5,440.1 805.5,439.9 805.5,439.7 805.5,439.6 805.5,439.4 805.5,439.2 805.5,439.1 810.6,438.9 810.6,438.7 810.6,438.6 810.6,438.4 810.6,438.2 810.6,438.1 815.6,437.9 815.6,437.7 815.6,437.6 815.6,437.4 815.6,437.2 815.6,437.1 820.7,437.0 820.7,436.9 820.7,436.8 820.7,436.7 820.7,436.7 820.7,436.6 825.8,436.5 825.8,436.4 825.8,436.3 825.8,436.2 825.8,436.2 825.8,436.1 830.8,436.0 830.8,435.9 830.8,435.8 830.8,435.7 830.8,435.6 830.8,435.6 835.8,435.5 835.8,435.4 835.8,435.3 835.8,435.2 835.8,435.1 835.8,435.0 840.9,435.0 840.9,434.9 840.9,434.8 840.9,434.7 840.9,434.6 840.9,434.5 846.0,434.5 846.0,434.4 846.0,434.3 846.0,434.2 846.0,434.1 846.0,434.0 851.0,433.9 851.0,433.9 851.0,433.8 851.0,433.7 851.0,433.6 851.0,433.5 856.0,433.4 856.0,433.4 856.0,433.3 856.0,433.2 856.0,433.1 856.0,433.0 861.1,432.9 861.1,432.8 861.1,432.7 861.1,432.6 861.1,432.5 861.1,432.4 866.1,432.3 866.1,432.2 866.1,432.1 866.1,432.0 866.1,431.9 866.1,431.7 871.2,431.6 871.2,431.5 871.2,431.4 871.2,431.3 871.2,431.2 871.2,431.1 876.2,431.0 876.2,430.9 876.2,430.8 876.2,430.7 876.2,430.6 876.2,430.5 881.3,430.4 881.3,430.3 881.3,430.2 881.3,430.1 881.3,430.0 881.3,429.9 886.3,429.8 886.3,429.7 886.3,429.6 886.3,429.5 886.3,429.4 886.3,429.3 891.4,429.2 891.4,429.0 891.4,428.9 891.4,428.8 891.4,428.7 891.4,428.6 896.5,428.5 896.5,428.4 896.5,428.3 896.5,428.2 896.5,428.1 896.5,428.1 901.5,428.0 901.5,427.9 901.5,427.8 901.5,427.8 901.5,427.7 901.5,427.6 906.5,427.6 906.5,427.5 906.5,427.4 906.5,427.3 906.5,427.3 906.5,427.2 911.6,427.1 911.6,427.0 911.6,427.0 911.6,426.9 911.6,426.8 911.6,426.7 916.6,426.7 916.6,426.6 916.6,426.5 916.6,426.5 916.6,426.4 916.6,426.3 921.7,426.2 921.7,426.1 921.7,426.0 921.7,425.8 921.7,425.7 921.7,425.5 926.8,425.4 926.8,425.2 926.8,425.1 926.8,424.9 926.8,424.8 926.8,424.6 931.8,424.5 931.8,424.3 931.8,424.2 931.8,424.0 931.8,423.9 931.8,423.7 936.8,423.6 936.8,423.5 936.8,423.3 936.8,423.2 936.8,423.0 936.8,422.9 941.9,422.7 941.9,422.6 941.9,422.4 941.9,422.3 941.9,422.1 941.9,422.0 947.0,421.8 947.0,421.7 947.0,421.5 947.0,421.4 947.0,421.2 947.0,421.1 952.0,420.9 952.0,420.8 952.0,420.6 952.0,420.5 952.0,420.3 952.0,420.2 957.0,420.0 957.0,419.9 957.0,419.7 957.0,419.6 957.0,419.4 957.0,419.3 962.1,419.2 962.1,419.1 962.1,419.1 962.1,419.0 962.1,418.9 962.1,418.9 967.1,418.8 967.1,418.7 967.1,418.7 967.1,418.6 967.1,418.6 967.1,418.5 972.2,418.4 972.2,418.4 972.2,418.3 972.2,418.3 972.2,418.2 972.2,418.1 977.2,418.1 977.2,418.0 977.2,417.9 977.2,417.9 977.2,417.8 977.2,417.8 982.3,417.7 982.3,417.6 982.3,417.6 982.3,417.5 982.3,417.5 982.3,417.4 987.3,417.3 987.3,417.3 987.3,417.2 987.3,417.1 987.3,417.1 987.3,417.0 992.4,417.0 992.4,416.9 992.4,416.8 992.4,416.8 992.4,416.7 992.4,416.7 997.5,416.6 997.5,416.5 997.5,416.5 997.5,416.4 997.5,416.3 997.5,416.3 1002.5,416.2 1002.5,416.1 1002.5,415.9 1002.5,415.8 1002.5,415.7 1002.5,415.6 1007.5,415.5 1007.5,415.4 1007.5,415.3 1007.5,415.2 1007.5,415.1 1007.5,415.0 1012.6,414.9 1012.6,414.8 1012.6,414.7 1012.6,414.6 1012.6,414.5 1012.6,414.4 1017.6,414.3 1017.6,414.1 1017.6,414.0 1017.6,413.9 1017.6,413.8 1017.6,413.7 1022.7,413.6 1022.7,413.5 1022.7,413.4 1022.7,413.3 1022.7,413.2 1022.7,413.1 1027.8,413.0 1027.8,412.9 1027.8,412.8 1027.8,412.7 1027.8,412.6 1027.8,412.5 1032.8,412.3 1032.8,412.2 1032.8,412.1 1032.8,412.0 1032.8,411.9 1032.8,411.8 1037.8,411.7 1037.8,411.6 1037.8,411.5 1037.8,411.4 1037.8,411.3 1037.8,411.2 1042.9,411.2 1042.9,411.1 1042.9,411.0 1042.9,411.0 1042.9,410.9 1042.9,410.8 1048.0,410.8 1048.0,410.7 1048.0,410.7 1048.0,410.6 1048.0,410.5 1048.0,410.5 1053.0,410.4 1053.0,410.3 1053.0,410.3 1053.0,410.2 1053.0,410.1 1053.0,410.1 1058.0,410.0 1058.0,410.0 1058.0,409.9 1058.0,409.8 1058.0,409.8 1058.0,409.7 1063.1,409.6 1063.1,409.6 1063.1,409.5 1063.1,409.4 1063.1,409.4 1063.1,409.3 1068.1,409.3 1068.1,409.2 1068.1,409.1 1068.1,409.1 1068.1,409.0 1068.1,408.9 1073.2,408.9 1073.2,408.8 1073.2,408.7 1073.2,408.7 1073.2,408.6 1073.2,408.6 1078.2,408.5 1078.2,408.4 1078.2,408.4 1078.2,408.3 1078.2,408.2 1078.2,408.2 1083.3,408.1 1083.3,408.1 1083.3,408.0 1083.3,407.9 1083.3,407.9 1083.3,407.8 1088.3,407.7 1088.3,407.7 1088.3,407.6 1088.3,407.6 1088.3,407.5 1088.3,407.4 1093.4,407.4 1093.4,407.3 1093.4,407.3 1093.4,407.2 1093.4,407.1 1093.4,407.1 1098.5,407.0 1098.5,406.9 1098.5,406.9 1098.5,406.8 1098.5,406.8 1098.5,406.7 1103.5,406.6 1103.5,406.6 1103.5,406.5 1103.5,406.5 1103.5,406.4 1103.5,406.3 1108.5,406.3 1108.5,406.2 1108.5,406.1 1108.5,406.1 1108.5,406.0 1108.5,406.0 1113.6,405.9 1113.6,405.8 1113.6,405.8 1113.6,405.7 1113.6,405.7 1113.6,405.6 1118.6,405.5 1118.6,405.5 1118.6,405.4 1118.6,405.2 1118.6,405.0 1118.6,404.8 1123.7,404.6 1123.7,404.4 1123.7,404.1 1123.7,403.9 1123.7,403.7 1123.7,403.5 1128.8,403.3 1128.8,403.1 1128.8,402.9 1128.8,402.7 1128.8,402.4 1128.8,402.2 1133.8,402.0 1133.8,401.8 1133.8,401.6 1133.8,401.4 1133.8,401.2 1133.8,401.0 1138.8,400.7 1138.8,400.5 1138.8,400.3 1138.8,400.1 1138.8,399.9 1138.8,399.7 1143.9,399.5 1143.9,399.3 1143.9,399.0 1143.9,398.8 1143.9,398.6 1143.9,398.4 1149.0,398.2 1149.0,398.0 1149.0,397.8 1149.0,397.6 1149.0,397.4 1149.0,397.1 1154.0,396.9 1154.0,396.7 1154.0,396.5 1154.0,396.3 1154.0,396.1 1154.0,395.9 1159.0,395.7 1159.0,395.5 1159.0,395.3 1159.0,395.1 1159.0,394.9 1159.0,394.7 1164.1,394.5 1164.1,394.3 1164.1,394.1 1164.1,393.9 1164.1,393.7 1164.1,393.5 1169.1,393.3 1169.1,393.1 1169.1,392.9 1169.1,392.7 1169.1,392.5 1169.1,392.3 1174.2,392.1 1174.2,391.9 1174.2,391.7 1174.2,391.5 1174.2,391.3 1174.2,391.1 1179.2,391.0 1179.2,390.8 1179.2,390.6 1179.2,390.4 1179.2,390.2 1179.2,390.0 1184.3,389.8 1184.3,389.6 1184.3,389.4 1184.3,389.2 1184.3,389.0 1184.3,388.8 1189.3,388.6 1189.3,388.4 1189.3,388.3 1189.3,388.2 1189.3,388.0 1189.3,387.9 1194.4,387.7 1194.4,387.6 1194.4,387.4 1194.4,387.3 1194.4,387.2 1194.4,387.0 1199.5,386.9 1199.5,386.7 1199.5,386.6 1199.5,386.5 1199.5,386.3 1199.5,386.2 1204.5,386.0 1204.5,385.9 1204.5,385.8 1204.5,385.6 1204.5,385.5 1204.5,385.3 1209.5,385.2 1209.5,385.0 1209.5,384.9 1209.5,384.8 1209.5,384.6 1209.5,384.5 1214.6,384.3 1214.6,384.2 1214.6,384.1 1214.6,383.9 1214.6,383.8 1214.6,383.6 1219.7,383.5 1219.7,383.3 1219.7,383.1 1219.7,383.0 1219.7,382.8 1219.7,382.6 1224.7,382.4 1224.7,382.3 1224.7,382.1 1224.7,381.9 1224.7,381.7 1224.7,381.6 1229.8,381.4 1229.8,381.2 1229.8,381.1 1229.8,380.9 1229.8,380.7 1229.8,380.5 1234.8,380.4 1234.8,380.2 1234.8,380.0 1234.8,379.8 1234.8,379.7 1234.8,379.5 1239.8,379.4 1239.8,379.4 1239.8,379.4 1239.8,379.4 1239.8,379.4 1239.8,379.4 1244.9,379.3 1244.9,379.3 1244.9,379.3 1244.9,379.3 1244.9,379.3 1244.9,379.3 1250.0,379.3 1250.0,379.3 1250.0,379.3 1250.0,379.3 1250.0,379.3 1250.0,379.3 1255.0,379.2 1255.0,379.2 1255.0,379.2 1255.0,379.2 1255.0,379.2 1255.0,379.2 1260.0,379.2 1260.0,379.2 1260.0,379.2 1260.0,379.2 1260.0,379.2 1260.0,379.3 1265.1,379.3 1265.1,379.3 1265.1,379.3 1265.1,379.3 1265.1,379.3 1265.1,379.3 1270.2,379.3 1270.2,379.3 1270.2,379.3 1270.2,379.3 1270.2,379.4 1270.2,379.4 1275.2,379.4 1275.2,379.4 1275.2,379.4 1275.2,379.4 1275.2,379.6 1275.2,379.8 1280.2,380.1 1280.2,380.3 1280.2,380.5 1280.2,380.8 1280.2,381.0 1280.2,381.3 1285.3,381.5 1285.3,381.8 1285.3,382.0 1285.3,382.3 1285.3,382.5 1285.3,382.7 1290.3,383.0 1290.3,383.2 1290.3,383.5 1290.3,383.7 1290.3,384.0 1290.3,384.6 1295.4,385.3 1295.4,386.1 1295.4,386.8 1295.4,387.5 1295.4,388.2 1295.4,388.9 1300.5,389.6 1300.5,390.3 1300.5,391.0 1300.5,391.7 1300.5,392.4 1300.5,393.1 1305.5,393.9 1305.5,394.6 1305.5,395.3 1305.5,396.0 1305.5,396.7 1305.5,397.4 1310.5,398.5 1310.5,399.7 1310.5,400.8 1310.5,401.9 1310.5,403.0 1310.5,404.2 1315.6,405.3 1315.6,406.4 1315.6,407.5 1315.6,408.7 1315.6,409.8 1315.6,410.9 1320.7,412.0 1320.7,413.1 1320.7,415.3 1320.7,417.5 1320.7,419.8 1320.7,422.1 1325.7,424.3 1325.7,426.6 1325.7,428.9 1325.7,430.6 1325.7,432.3 1325.7,433.9 1330.8,435.6 1330.8,437.3 1330.8,438.9 1330.8,440.6 1330.8,442.3 1330.8,443.9 1335.8,445.4 1335.8,446.7 1335.8,447.9 1335.8,449.1 1335.8,450.4 1335.8,451.6 1340.8,452.8 1340.8,454.1 1340.8,455.3 1340.8,456.5 1340.8,457.8 1340.8,459.0 1345.9,459.9 1345.9,460.7 1345.9,461.4 1345.9,462.2 1345.9,462.9 1345.9,463.7 1351.0,464.4 1351.0,465.1 1351.0,465.9 1351.0,466.6 1351.0,467.4 1351.0,468.1 1356.0,468.8 1356.0,469.6 1356.0,469.7 1356.0,469.1 1356.0,468.5 1356.0,467.9 1361.0,467.3 1361.0,466.7 1361.0,466.1 1361.0,465.5 1361.0,464.9 1361.0,464.3 1366.1,463.7 1366.1,463.1 1366.1,462.5 1366.1,461.9 1366.1,460.8 1366.1,458.4 1371.2,456.1 1371.2,453.7 1371.2,451.4 1371.2,449.0 1371.2,446.6 1371.2,444.5 1376.2,442.8 1376.2,441.2 1376.2,439.5 1376.2,437.8 1376.2,436.1 1376.2,434.5 1381.2,433.0 1381.2,432.7 1381.2,432.4 1381.2,432.0 1381.2,431.7 1381.2,431.4 1386.3,431.1 1386.3,430.7 1386.3,430.4 1386.3,430.1 1386.3,429.7 1386.3,429.4 1391.3,429.4 1391.3,430.0 1391.3,430.5 1391.3,431.1 1391.3,431.6 1391.3,432.2 1396.4,432.7 1396.4,432.9 1396.4,432.4 1396.4,431.8 1396.4,431.3 1396.4,430.7 1401.5,430.1 1401.5,429.6 1401.5,429.0 1401.5,428.5 1401.5,427.9 1401.5,427.4 1406.5,426.8 1406.5,426.2 1406.5,425.7 1406.5,425.2 1406.5,424.9 1406.5,424.6 1411.5,424.3 1411.5,424.0 1411.5,423.7 1411.5,423.5 1411.5,423.2 1411.5,422.9 1416.6,422.6 1416.6,422.3 1416.6,422.0 1416.6,421.8 1416.6,421.5 1416.6,421.2 1421.7,420.3 1421.7,419.3 1421.7,418.4 1421.7,417.5 1421.7,416.5 1421.7,415.6 1426.7,414.7 1426.7,413.7 1426.7,412.8 1426.7,411.9 1426.7,410.9 1426.7,410.0 1431.8,409.1 1431.8,408.1 1431.8,408.6 1431.8,409.2 1431.8,409.9 1431.8,410.5 1436.8,411.2 1436.8,411.9 1436.8,412.5 1436.8,413.2 1436.8,413.8 1436.8,414.5 1441.8,415.1 1441.8,415.8 1441.8,416.5 1441.8,417.1 1441.8,417.6 1441.8,418.0 1446.9,418.4 1446.9,418.9 1446.9,419.3 1446.9,419.7 1446.9,420.1 1446.9,420.5 1452.0,420.9 1452.0,421.4 1452.0,421.8 1452.0,422.2 1452.0,422.6 1452.0,423.0 1457.0,423.3 1457.0,423.6 1457.0,423.8 1457.0,424.1 1457.0,424.3 1457.0,424.6 1462.0,424.8 1462.0,425.1 1462.0,425.3 1462.0,425.5 1462.0,425.8 1462.0,426.0 1467.1,426.3 1467.1,426.5 1467.1,426.8 1467.1,427.0 1467.1,427.5 1467.1,428.9 1472.2,430.2 1472.2,431.6 1472.2,433.0 1472.2,434.4 1472.2,435.8 1472.2,437.2 1477.2,438.6 1477.2,440.1 1477.2,441.5 1477.2,442.9 1477.2,444.4 1477.2,445.8 1482.2,447.5 1482.2,450.2 1482.2,453.0 1482.2,455.8 1482.2,458.5 1482.2,458.5 1487.3,458.5 1487.3,452.5 1487.3,443.0 1487.3,434.1 1487.3,426.7 1487.3,419.2 1492.3,413.8 1492.3,413.1 1492.3,412.4 1492.3,411.7 1492.3,411.0 1492.3,410.3 1497.4,409.6 1497.4,408.9 1497.4,408.2 1497.4,407.5 1497.4,407.3 1497.4,407.3 1502.5,407.2 1502.5,407.2 1502.5,407.2 1502.5,407.2 1502.5,407.1 1502.5,407.1 1507.5,407.1 1507.5,407.1 1507.5,407.0 1507.5,407.0 1507.5,407.0 1507.5,406.9 1512.5,406.9 1512.5,406.9 1512.5,406.9 1512.5,406.8 1512.5,406.8 1512.5,406.8 1517.6,406.8 1517.6,406.7 1517.6,406.7 1517.6,406.7 1517.6,406.7 1517.6,406.6 1522.7,406.6 1522.7,406.6 1522.7,406.6 1522.7,406.5 1522.7,406.5 1522.7,406.5 1527.7,406.5 1527.7,406.4 1527.7,406.4 1527.7,406.5 1527.7,406.6 1527.7,406.7 1532.8,406.8 1532.8,406.9 1532.8,407.0 1532.8,407.1 1532.8,407.3 1532.8,407.4 1537.8,407.5 1537.8,407.6 1537.8,407.7 1537.8,407.8 1537.8,408.0 1537.8,408.1 1542.8,408.2 1542.8,408.3 1542.8,408.5 1542.8,408.6 1542.8,408.8 1542.8,408.9 1547.9,409.1 1547.9,409.3 1547.9,409.4 1547.9,409.6 1547.9,409.7 1547.9,409.9 1553.0,410.0 1553.0,410.2 1553.0,410.4 1553.0,410.5 1553.0,410.7 1553.0,410.8 1558.0,411.0 1558.0,411.2 1558.0,411.3 1558.0,410.9 1558.0,410.5 1558.0,410.2 1563.0,409.8 1563.0,409.4 1563.0,409.1 1563.0,408.7 1563.0,408.3 1563.0,408.0 1568.1,407.6 1568.1,407.2 1568.1,406.9 1568.1,406.5 1568.1,406.1 1568.1,405.8 1573.2,405.4 1573.2,405.0 1573.2,404.6 1573.2,404.3 1573.2,404.0 1573.2,403.7 1578.2,403.4 1578.2,403.1 1578.2,402.8 1578.2,402.5 1578.2,402.2 1578.2,401.9 1583.2,401.6 1583.2,401.3 1583.2,401.0 1583.2,400.7 1583.2,400.4 1583.2,400.1 1588.3,399.8 1588.3,399.5 1588.3,399.4 1588.3,399.3 1588.3,399.3 1588.3,399.3 1593.3,399.2 1593.3,399.2 1593.3,399.1 1593.3,399.1 1593.3,399.1 1593.3,399.0 1598.4,399.0 1598.4,398.9 1598.4,398.9 1598.4,398.9 1598.4,398.8 1598.4,398.8 1603.5,398.8 1603.5,398.7 1603.5,398.7 1603.5,398.6 1603.5,398.6 1603.5,398.6 1608.5,398.5 1608.5,398.5 1608.5,398.4 1608.5,398.4 1608.5,398.5 1608.5,398.7 1613.5,398.9 1613.5,399.0 1613.5,399.2 1613.5,399.3 1613.5,399.5 1613.5,399.6 1618.6,399.8 1618.6,399.9 1618.6,400.1 1618.6,400.3 1618.6,400.4 1618.6,400.7 1623.7,401.0 1623.7,401.3 1623.7,401.6 1623.7,401.9 1623.7,402.2 1623.7,402.5 1628.7,402.8 1628.7,403.0 1628.7,403.3 1628.7,403.6 1628.7,403.9 1628.7,404.2 1633.8,404.5 1633.8,404.8 1633.8,405.1 1633.8,405.4 1633.8,405.7 1633.8,406.0 1638.8,406.3 1638.8,406.6 1638.8,406.8 1638.8,407.1 1638.8,407.3 1638.8,407.4 1643.8,407.5 1643.8,407.6 1643.8,407.7 1643.8,407.8 1643.8,407.9 1643.8,408.0 1648.9,408.1 1648.9,408.2 1648.9,408.3 1648.9,408.4 1648.9,408.5 1648.9,408.6 1654.0,408.7 1654.0,408.8 1654.0,408.9 1654.0,408.9 1654.0,409.0 1654.0,409.1 1659.0,409.2 1659.0,409.2 1659.0,408.9 1659.0,408.7 1659.0,408.4 1659.0,408.1 1664.0,407.8 1664.0,407.6 1664.0,407.3 1664.0,407.0 1664.0,406.7 1664.0,406.4 1669.1,406.2 1669.1,405.9 1669.1,405.6 1669.1,405.3 1669.1,405.1 1669.1,404.8 1674.2,404.5 1674.2,404.2 1674.2,404.0 1674.2,403.7 1674.2,403.4 1674.2,402.9 1679.2,402.4 1679.2,401.9 1679.2,401.4 1679.2,400.9 1679.2,400.4 1679.2,399.9 1684.2,399.4 1684.2,398.9 1684.2,398.4 1684.2,397.9 1684.2,397.5 1684.2,397.0 1689.3,396.5 1689.3,396.2 1689.3,395.9 1689.3,395.6 1689.3,395.4 1689.3,395.1 1694.3,394.9 1694.3,394.6 1694.3,394.3 1694.3,394.1 1694.3,393.8 1694.3,393.6 1699.4,393.3 1699.4,393.0 1699.4,392.8 1699.4,392.5 1699.4,392.3 1699.4,392.0 1704.5,391.7 1704.5,391.4 1704.5,390.9 1704.5,390.4 1704.5,389.9 1704.5,389.3 1709.5,388.8 1709.5,388.3 1709.5,387.8 1709.5,387.3 1709.5,386.7 1709.5,386.2 1714.5,385.7 1714.5,385.2 1714.5,384.6 1714.5,384.1 1714.5,383.6 1714.5,383.1 1719.6,382.5 1719.6,382.0 1719.6,381.6 1719.6,381.5 1719.6,381.4 1719.6,381.3 1724.7,381.2 1724.7,381.0 1724.7,380.9 1724.7,380.8 1724.7,380.7 1724.7,380.6 1729.7,380.5 1729.7,380.4 1729.7,380.3 1729.7,380.2 1729.7,380.1 1729.7,380.0 1734.8,379.9 1734.8,379.8 1734.8,379.7 1734.8,379.7 1734.8,379.9 1734.8,380.1 1739.8,380.3 1739.8,380.5 1739.8,380.7 1739.8,380.9 1739.8,381.1 1739.8,381.3 1744.8,381.5 1744.8,381.7 1744.8,382.0 1744.8,382.2 1744.8,382.4 1744.8,382.6 1749.9,382.8 1749.9,383.0 1749.9,383.2 1749.9,383.4 1749.9,383.6 1749.9,383.7 1755.0,383.9 1755.0,384.1 1755.0,384.2 1755.0,384.4 1755.0,384.5 1755.0,384.7 1760.0,384.9 1760.0,385.0 1760.0,385.2 1760.0,385.3 1760.0,385.5 1760.0,385.7 1765.0,385.8 1765.0,386.0 1765.0,386.1 1765.0,386.3 1765.0,386.4 1765.0,386.9 1770.1,387.5 1770.1,388.2 1770.1,388.8 1770.1,389.4 1770.1,390.1 1770.1,390.7 1775.2,391.3 1775.2,392.0 1775.2,392.6 1775.2,393.2 1775.2,393.8 1775.2,394.5 1780.2,395.1 1780.2,395.6 1780.2,395.9 1780.2,396.2 1780.2,396.5 1780.2,396.8 1785.2,397.2 1785.2,397.5 1785.2,397.8 1785.2,398.1 1785.2,398.4 1785.2,398.7 1790.3,399.1 1790.3,399.4 1790.3,399.7 1790.3,400.0 1790.3,400.3 1790.3,400.6 1795.3,401.0 1795.3,401.3 1795.3,401.7 1795.3,402.1 1795.3,402.5 1795.3,402.9 1800.4,403.3 1800.4,403.8 1800.4,404.2 1800.4,404.6 1800.4,405.0 1800.4,405.5 1805.5,405.9 1805.5,406.3 1805.5,406.7 1805.5,407.1 1805.5,407.6 1805.5,408.0 1810.5,408.4 1810.5,408.8 1810.5,409.2 1810.5,409.5 1810.5,409.7 1810.5,410.0 1815.5,410.2 1815.5,410.5 1815.5,410.7 1815.5,411.0 1815.5,411.2 1815.5,411.4 1820.6,411.7 1820.6,411.9 1820.6,412.2 1820.6,412.4 1820.6,412.7 1820.6,412.9 1825.7,413.1 1825.7,413.5 1825.7,414.0 1825.7,414.5 1825.7,415.0 1825.7,415.5 1830.7,416.0 1830.7,416.5 1830.7,417.0 1830.7,417.5 1830.7,418.0 1830.7,418.5 1835.8,419.0 1835.8,419.6 1835.8,420.3 1835.8,421.1 1835.8,421.8 1835.8,422.5 1840.8,423.2 1840.8,423.9 1840.8,424.7 1840.8,425.4 1840.8,426.1 1840.8,426.8 1845.8,427.5 1845.8,428.3 1845.8,429.0 1845.8,429.7 1845.8,430.4 1845.8,431.1 1850.9,431.7 1850.9,432.2 1850.9,432.7 1850.9,433.2 1850.9,433.8 1850.9,434.3 1856.0,434.8 1856.0,435.3 1856.0,435.9 1856.0,436.4 1856.0,436.9 1856.0,437.4 1861.0,437.9 1861.0,438.5 1861.0,439.0 1861.0,439.5 1861.0,440.0 1861.0,440.6 1866.0,441.1 1866.0,441.8 1866.0,442.4 1866.0,443.1 1866.0,443.8 1866.0,444.4 1871.1,445.1 1871.1,445.8 1871.1,446.4 1871.1,447.1 1871.1,447.8 1871.1,448.4 1876.2,449.1 1876.2,449.8 1876.2,450.4 1876.2,451.1 1876.2,451.8 1876.2,452.3 1881.2,452.7 1881.2,453.1 1881.2,453.5 1881.2,454.0 1881.2,454.4 1881.2,454.8 1886.2,455.2 1886.2,455.6 1886.2,456.1 1886.2,456.5 1886.2,456.9 1886.2,457.3 1891.3,457.7 1891.3,458.2 1891.3,458.6 1891.3,459.0 1891.3,459.5 1891.3,460.0 1896.3,460.5 1896.3,460.9 1896.3,461.4 1896.3,461.9 1896.3,462.4 1896.3,462.9 1901.4,463.3 1901.4,463.8 1901.4,464.3 1901.4,464.8 1901.4,465.2 1901.4,465.7 1906.5,466.2 1906.5,466.7 1906.5,466.8 1906.5,466.8 1906.5,466.8 1906.5,466.8 1911.5,466.8 1911.5,466.8 1911.5,466.8 1911.5,466.8 1911.5,466.8 1911.5,466.8 1916.5,466.8 1916.5,466.8 1916.5,466.8 1916.5,466.8 1916.5,466.8 1916.5,466.8 1921.6,466.8 1921.6,466.8 1921.6,466.8 1921.6,467.4 1921.6,468.1 1921.6,468.7 1926.7,469.4 1926.7,470.1 1926.7,470.8 1926.7,471.5 1926.7,472.1 1926.7,472.8 1931.7,473.5 1931.7,474.2 1931.7,474.9 1931.7,475.4 1931.7,476.0 1931.7,476.5 1936.8,477.1 1936.8,477.7 1936.8,478.0 1936.8,478.0 1936.8,478.0 1936.8,478.0 1941.8,478.0 1941.8,478.0 1941.8,478.0 1941.8,478.0 1941.8,478.0 1941.8,478.0" stroke="#37AD6B" stroke-width="13.8"/>
</g>
<line x1="470.3" y1="268.5" x2="468.6" y2="1338" stroke="#000" stroke-width="5.6" stroke-dasharray="21.6 10.6 7.3 10 7.5 9.8" stroke-dashoffset="32.6"/>
<line x1="444.6" y1="330.0" x2="528.8" y2="367.2" stroke="#000" stroke-width="2.4"/><polygon points="529.9,367.7 496.3,362.1 503.2,346.6" fill="#000"/>
<line x1="1345.3" y1="214.7" x2="1308.1" y2="245.6" stroke="#000" stroke-width="2.4"/><polygon points="1307.2,246.4 1327.1,218.8 1338.0,231.8" fill="#000"/>
<line x1="1395.8" y1="184.0" x2="1396.8" y2="249.6" stroke="#000" stroke-width="2.4"/><polygon points="1396.8,250.8 1387.8,217.9 1404.8,217.7" fill="#000"/>
<line x1="1546.6" y1="172.0" x2="1569.9" y2="229.1" stroke="#000" stroke-width="2.4"/><polygon points="1570.4,230.2 1550.0,202.9 1565.8,196.4" fill="#000"/>
<line x1="1353.2" y1="471.8" x2="1313.9" y2="517.5" stroke="#000" stroke-width="2.4"/><polygon points="1313.1,518.4 1328.2,487.8 1341.1,498.9" fill="#000"/>
<line x1="1655.1" y1="415.3" x2="1677.3" y2="471.3" stroke="#000" stroke-width="2.4"/><polygon points="1677.7,472.4 1657.7,444.8 1673.5,438.6" fill="#000"/>
<line x1="468.9" y1="1251.5" x2="534.9" y2="1289.9" stroke="#000" stroke-width="2.4"/><polygon points="535.9,1290.5 503.1,1281.2 511.7,1266.6" fill="#000"/>
<line x1="711.5" y1="938.2" x2="736.5" y2="1002.2" stroke="#000" stroke-width="2.4"/><polygon points="736.9,1003.3 717.0,975.6 732.8,969.5" fill="#000"/>
<line x1="1343.3" y1="942.7" x2="1278.6" y2="977.4" stroke="#000" stroke-width="2.4"/><polygon points="1277.5,978.0 1302.6,954.9 1310.6,969.9" fill="#000"/>
<line x1="1403.8" y1="895.7" x2="1367.6" y2="966.6" stroke="#000" stroke-width="2.4"/><polygon points="1367.1,967.7 1374.5,934.4 1389.7,942.2" fill="#000"/>
<line x1="1456.7" y1="863.9" x2="1456.7" y2="941.5" stroke="#000" stroke-width="2.4"/><polygon points="1456.7,942.7 1448.2,909.7 1465.2,909.7" fill="#000"/>
<line x1="1531.7" y1="869.9" x2="1561.3" y2="936.6" stroke="#000" stroke-width="2.4"/><polygon points="1561.8,937.7 1540.6,911.0 1556.2,904.1" fill="#000"/>
<line x1="1661.5" y1="895.7" x2="1714.7" y2="941.5" stroke="#000" stroke-width="2.4"/><polygon points="1715.6,942.3 1685.0,927.2 1696.1,914.3" fill="#000"/>
<text class="ann" transform="translate(535.00,407.00) scale(0.9835,1.0000)">3430</text>
<text class="ann" transform="translate(1169.00,341.60) scale(0.9613,1.0000)">1650</text>
<text class="ann" transform="translate(1345.00,312.30) scale(0.9219,1.0000)">1551</text>
<text class="ann" transform="translate(1522.50,328.00) scale(0.9536,1.0000)">1248</text>
<text class="ann" transform="translate(1235.50,581.00) scale(0.9523,1.0000)">1640</text>
<text class="ann" transform="translate(1633.50,534.30) scale(0.9660,1.0000)">1040</text>
<text class="ann" transform="translate(550.00,1302.40) scale(0.9745,1.0000)">3400</text>
<text class="ann" transform="translate(735.50,1066.70) scale(0.9820,1.0000)">2920</text>
<text class="ann" transform="translate(1136.50,1022.30) scale(0.9511,1.0000)">1624</text>
<text class="ann" transform="translate(1300.00,1034.50) scale(0.9600,1.0000)">1540</text>
<text class="ann" transform="translate(1425.50,1001.80) scale(0.9615,1.0000)">1450</text>
<text class="ann" transform="translate(1559.00,1021.60) scale(0.9555,1.0000)">1300</text>
<text class="ann" transform="translate(1725.50,1000.20) scale(0.9585,1.0000)">1040</text>
<line x1="1475.9" y1="1083.0" x2="1591.2" y2="1083.0" stroke="#37AD6B" stroke-width="14.1"/><text class="leg" transform="translate(1603.00,1100.20) scale(1.0117,1.0000)">DA-PPY-COL</text>
<line x1="1475.9" y1="1146.5" x2="1591.2" y2="1146.5" stroke="#1A6FDF" stroke-width="14.1"/><text class="leg" transform="translate(1603.00,1164.00) scale(0.9963,1.0000)">COL</text>
<line x1="1475.9" y1="1210.0" x2="1591.2" y2="1210.0" stroke="#F14040" stroke-width="14.1"/><text class="leg" transform="translate(1603.00,1228.40) scale(1.0211,1.0000)">PPY-COL</text>
<line x1="1475.9" y1="1273.9" x2="1591.2" y2="1273.9" stroke="#515151" stroke-width="14.1"/><text class="leg" transform="translate(1603.00,1291.90) scale(0.9981,1.0000)">PPY</text>
<text class="tick" transform="translate(85.00,1443.20) scale(0.9558,1.0000)">4000</text>
<text class="tick" transform="translate(335.00,1443.20) scale(0.9677,1.0000)">3500</text>
<text class="tick" transform="translate(586.50,1443.20) scale(0.9740,1.0000)">3000</text>
<text class="tick" transform="translate(840.50,1443.20) scale(0.9675,1.0000)">2500</text>
<text class="tick" transform="translate(1093.50,1443.20) scale(0.9675,1.0000)">2000</text>
<text class="tick" transform="translate(1345.50,1443.20) scale(0.9669,1.0000)">1500</text>
<text class="tick" transform="translate(1598.50,1443.20) scale(0.9605,1.0000)">1000</text>
<text class="tick" transform="translate(1871.50,1443.20) scale(0.9526,1.0000)">500</text>
<text class="ttl" transform="translate(584.50,1551.80) scale(0.9946,1.0000)">Wavenumber / cm</text>
<text class="sup" transform="translate(1437.50,1509.00) scale(1.1114,1.0167)">−</text>
<text class="sup" transform="translate(1484.00,1507.00) scale(0.9298,1.0206)">1</text>
<text class="ttl" transform="translate(104.80,1135.00) rotate(-90) scale(1.0082,1.0000)">Transmittance</text>
<text class="ttl" transform="translate(104.80,391.00) rotate(-90) scale(0.9956,1.0000)">/ a.u.</text>
</svg>
</body></html>
